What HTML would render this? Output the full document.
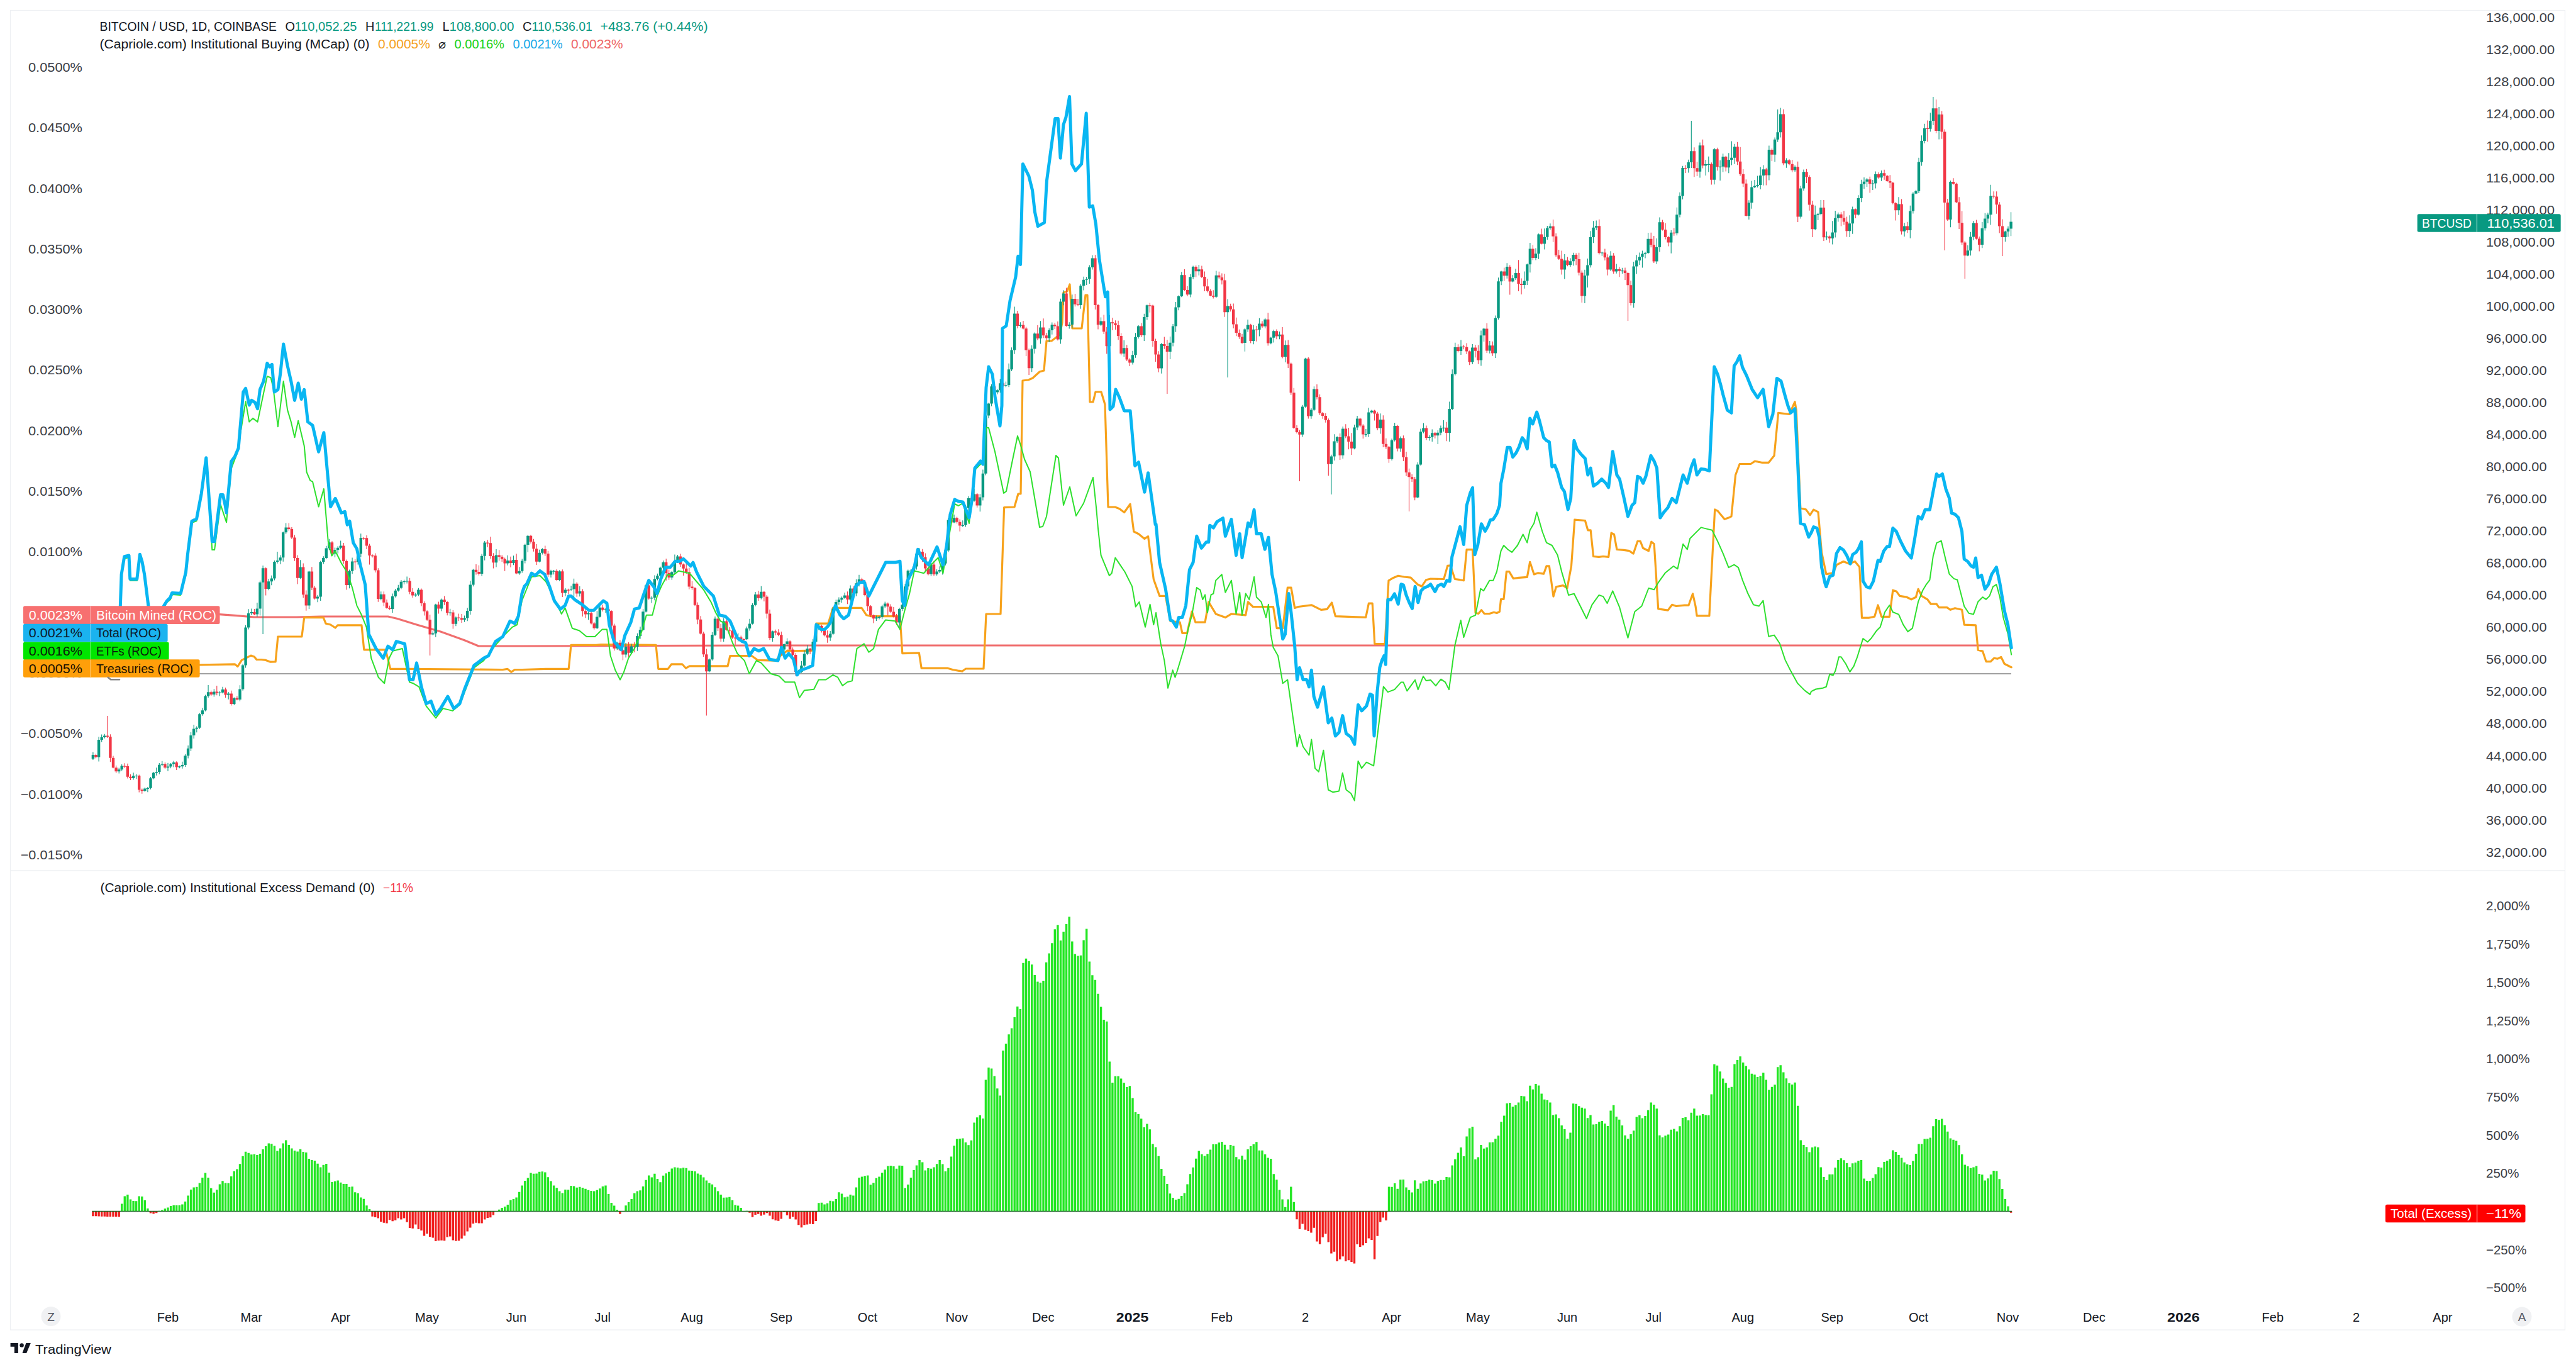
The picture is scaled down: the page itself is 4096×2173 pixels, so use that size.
<!DOCTYPE html><html><head><meta charset="utf-8"><style>html,body{margin:0;padding:0;background:#fff;}svg{display:block;}text{font-family:"Liberation Sans", sans-serif;}</style></head><body>
<svg width="4096" height="2173" viewBox="0 0 4096 2173">
<rect width="4096" height="2173" fill="#ffffff"/>
<rect x="16.5" y="16.5" width="4062" height="2097.5" fill="none" stroke="#eef0f3" stroke-width="1.3"/>
<line x1="16" y1="1384" x2="4079" y2="1384" stroke="#eef0f3" stroke-width="1.5"/>
<path d="M193.7 1925.6V1913.6 M198.3 1925.6V1901.5 M202.9 1925.6V1899.1 M207.5 1925.6V1906.5 M212.1 1925.6V1909.1 M216.6 1925.6V1909.2 M221.2 1925.6V1901.6 M225.8 1925.6V1902.1 M230.4 1925.6V1908 M234.9 1925.6V1921.1 M253.3 1925.6V1924.7 M257.8 1925.6V1923.4 M262.4 1925.6V1921.2 M267 1925.6V1919.4 M271.6 1925.6V1917.1 M276.2 1925.6V1916 M280.7 1925.6V1916 M285.3 1925.6V1916 M289.9 1925.6V1914.4 M294.5 1925.6V1910 M299.1 1925.6V1900.6 M303.6 1925.6V1890.9 M308.2 1925.6V1887.5 M312.8 1925.6V1886.7 M317.4 1925.6V1880.5 M321.9 1925.6V1871.9 M326.5 1925.6V1864.5 M331.1 1925.6V1871.9 M335.7 1925.6V1888.8 M340.3 1925.6V1895.7 M344.8 1925.6V1891.2 M349.4 1925.6V1882.5 M354 1925.6V1877.3 M358.6 1925.6V1880.6 M363.2 1925.6V1880.7 M367.7 1925.6V1870 M372.3 1925.6V1861.8 M376.9 1925.6V1858.5 M381.5 1925.6V1850.3 M386.1 1925.6V1837.7 M390.6 1925.6V1830.8 M395.2 1925.6V1832.7 M399.8 1925.6V1835.3 M404.4 1925.6V1834.8 M408.9 1925.6V1836.1 M413.5 1925.6V1833.9 M418.1 1925.6V1827.1 M422.7 1925.6V1822.1 M427.3 1925.6V1817.6 M431.8 1925.6V1818.3 M436.4 1925.6V1821.4 M441 1925.6V1829.6 M445.6 1925.6V1825.6 M450.2 1925.6V1817.6 M454.7 1925.6V1812.5 M459.3 1925.6V1820 M463.9 1925.6V1825.4 M468.5 1925.6V1829 M473.1 1925.6V1830.6 M477.6 1925.6V1826.7 M482.2 1925.6V1831.1 M486.8 1925.6V1831.9 M491.4 1925.6V1841.9 M495.9 1925.6V1844 M500.5 1925.6V1844.9 M505.1 1925.6V1849.7 M509.7 1925.6V1855.6 M514.3 1925.6V1851.8 M518.8 1925.6V1849.9 M523.4 1925.6V1864.1 M528 1925.6V1879.1 M532.6 1925.6V1877.7 M537.2 1925.6V1876.5 M541.7 1925.6V1879.7 M546.3 1925.6V1882 M550.9 1925.6V1882.1 M555.5 1925.6V1886.8 M560.1 1925.6V1886.3 M564.6 1925.6V1895.2 M569.2 1925.6V1896.7 M573.8 1925.6V1903.4 M578.4 1925.6V1905.8 M583 1925.6V1916.3 M587.5 1925.6V1922 M789 1925.6V1925.5 M793.6 1925.6V1922.7 M798.2 1925.6V1920 M802.7 1925.6V1917.9 M807.3 1925.6V1914.9 M811.9 1925.6V1907.8 M816.5 1925.6V1906 M821.1 1925.6V1903.5 M825.6 1925.6V1894.8 M830.2 1925.6V1884.4 M834.8 1925.6V1877.1 M839.4 1925.6V1872.6 M844 1925.6V1864.4 M848.5 1925.6V1865.8 M853.1 1925.6V1865.4 M857.7 1925.6V1862.8 M862.3 1925.6V1862.2 M866.8 1925.6V1863.5 M871.4 1925.6V1871.2 M876 1925.6V1877.4 M880.6 1925.6V1884.4 M885.2 1925.6V1888.2 M889.7 1925.6V1893.6 M894.3 1925.6V1896.5 M898.9 1925.6V1891 M903.5 1925.6V1891.2 M908.1 1925.6V1884.9 M912.6 1925.6V1885.5 M917.2 1925.6V1887.7 M921.8 1925.6V1886.7 M926.4 1925.6V1888 M931 1925.6V1889.8 M935.5 1925.6V1891.7 M940.1 1925.6V1893.1 M944.7 1925.6V1893.5 M949.3 1925.6V1891.7 M953.8 1925.6V1889.2 M958.4 1925.6V1886.1 M963 1925.6V1884.4 M967.6 1925.6V1898.1 M972.2 1925.6V1911.9 M976.7 1925.6V1916.5 M981.3 1925.6V1922.9 M990.5 1925.6V1924.9 M995.1 1925.6V1916.3 M999.6 1925.6V1910.9 M1004.2 1925.6V1905.9 M1008.8 1925.6V1896.7 M1013.4 1925.6V1893.5 M1018 1925.6V1892.2 M1022.5 1925.6V1886 M1027.1 1925.6V1875.8 M1031.7 1925.6V1868.4 M1036.3 1925.6V1871.4 M1040.9 1925.6V1865.7 M1045.4 1925.6V1874.1 M1050 1925.6V1879.3 M1054.6 1925.6V1868.8 M1059.2 1925.6V1865.2 M1063.7 1925.6V1862.8 M1068.3 1925.6V1857.4 M1072.9 1925.6V1855.4 M1077.5 1925.6V1855.9 M1082.1 1925.6V1857.3 M1086.6 1925.6V1856.3 M1091.2 1925.6V1856.7 M1095.8 1925.6V1860.8 M1100.4 1925.6V1860.9 M1105 1925.6V1862.1 M1109.5 1925.6V1865.4 M1114.1 1925.6V1867.4 M1118.7 1925.6V1871.4 M1123.3 1925.6V1876.5 M1127.9 1925.6V1880.6 M1132.4 1925.6V1882.7 M1137 1925.6V1887.2 M1141.6 1925.6V1893.4 M1146.2 1925.6V1899 M1150.7 1925.6V1903.7 M1155.3 1925.6V1903.5 M1159.9 1925.6V1902.8 M1164.5 1925.6V1907.9 M1169.1 1925.6V1915.4 M1173.6 1925.6V1916.6 M1178.2 1925.6V1920 M1182.8 1925.6V1925.5 M1187.4 1925.6V1924.8 M1301.9 1925.6V1912.3 M1306.4 1925.6V1911.8 M1311 1925.6V1914.5 M1315.6 1925.6V1912.8 M1320.2 1925.6V1908.8 M1324.7 1925.6V1909.5 M1329.3 1925.6V1906 M1333.9 1925.6V1895.3 M1338.5 1925.6V1897.5 M1343.1 1925.6V1903.2 M1347.6 1925.6V1902.3 M1352.2 1925.6V1899 M1356.8 1925.6V1900.6 M1361.4 1925.6V1887.6 M1366 1925.6V1872 M1370.5 1925.6V1870.4 M1375.1 1925.6V1869.3 M1379.7 1925.6V1868.5 M1384.3 1925.6V1883.2 M1388.9 1925.6V1880.2 M1393.4 1925.6V1872.8 M1398 1925.6V1870.5 M1402.6 1925.6V1864.2 M1407.2 1925.6V1859.3 M1411.8 1925.6V1853.4 M1416.3 1925.6V1853 M1420.9 1925.6V1854 M1425.5 1925.6V1857.8 M1430.1 1925.6V1852.8 M1434.6 1925.6V1852.9 M1439.2 1925.6V1888.6 M1443.8 1925.6V1883.1 M1448.4 1925.6V1871.9 M1453 1925.6V1860 M1457.5 1925.6V1852.4 M1462.1 1925.6V1844.1 M1466.7 1925.6V1847.6 M1471.3 1925.6V1860.4 M1475.9 1925.6V1856.9 M1480.4 1925.6V1857.8 M1485 1925.6V1855.6 M1489.6 1925.6V1850.2 M1494.2 1925.6V1844.1 M1498.8 1925.6V1850.6 M1503.3 1925.6V1862 M1507.9 1925.6V1856.8 M1512.5 1925.6V1838.6 M1517.1 1925.6V1821.3 M1521.6 1925.6V1810.6 M1526.2 1925.6V1810.1 M1530.8 1925.6V1809.6 M1535.4 1925.6V1815.9 M1540 1925.6V1820.3 M1544.5 1925.6V1812.8 M1549.1 1925.6V1784.6 M1553.7 1925.6V1776.2 M1558.3 1925.6V1772.7 M1562.9 1925.6V1778.1 M1567.4 1925.6V1716.4 M1572 1925.6V1696.9 M1576.6 1925.6V1698.5 M1581.2 1925.6V1710.5 M1585.8 1925.6V1730.3 M1590.3 1925.6V1741.5 M1594.9 1925.6V1669.9 M1599.5 1925.6V1658.9 M1604.1 1925.6V1644.2 M1608.6 1925.6V1634.5 M1613.2 1925.6V1617.1 M1617.8 1925.6V1599.9 M1622.4 1925.6V1604.1 M1627 1925.6V1530.8 M1631.5 1925.6V1523.7 M1636.1 1925.6V1527.7 M1640.7 1925.6V1533.2 M1645.3 1925.6V1550.1 M1649.9 1925.6V1560.4 M1654.4 1925.6V1561.9 M1659 1925.6V1559 M1663.6 1925.6V1529.8 M1668.2 1925.6V1515.4 M1672.8 1925.6V1499.2 M1677.3 1925.6V1477.3 M1681.9 1925.6V1470.3 M1686.5 1925.6V1494.9 M1691.1 1925.6V1481.1 M1695.6 1925.6V1469.1 M1700.2 1925.6V1457.2 M1704.8 1925.6V1496.5 M1709.4 1925.6V1516.5 M1714 1925.6V1519.5 M1718.5 1925.6V1518.7 M1723.1 1925.6V1494.4 M1727.7 1925.6V1476.4 M1732.3 1925.6V1528.4 M1736.9 1925.6V1550.2 M1741.4 1925.6V1557.8 M1746 1925.6V1579.7 M1750.6 1925.6V1600.5 M1755.2 1925.6V1621 M1759.8 1925.6V1623.8 M1764.3 1925.6V1687.6 M1768.9 1925.6V1720.9 M1773.5 1925.6V1710.7 M1778.1 1925.6V1710.7 M1782.6 1925.6V1714.4 M1787.2 1925.6V1721.2 M1791.8 1925.6V1727.9 M1796.4 1925.6V1726.3 M1801 1925.6V1745.4 M1805.5 1925.6V1768.1 M1810.1 1925.6V1770.9 M1814.7 1925.6V1778.2 M1819.3 1925.6V1791.9 M1823.9 1925.6V1786.5 M1828.4 1925.6V1795.3 M1833 1925.6V1818.5 M1837.6 1925.6V1823.4 M1842.2 1925.6V1837.7 M1846.8 1925.6V1858 M1851.3 1925.6V1868.9 M1855.9 1925.6V1881.9 M1860.5 1925.6V1897.2 M1865.1 1925.6V1903.9 M1869.6 1925.6V1906.9 M1874.2 1925.6V1905.7 M1878.8 1925.6V1901.1 M1883.4 1925.6V1896.4 M1888 1925.6V1882.4 M1892.5 1925.6V1866.2 M1897.1 1925.6V1855.7 M1901.7 1925.6V1841.7 M1906.3 1925.6V1829.6 M1910.9 1925.6V1834.7 M1915.4 1925.6V1837.4 M1920 1925.6V1834.2 M1924.6 1925.6V1827.5 M1929.2 1925.6V1819.1 M1933.8 1925.6V1819 M1938.3 1925.6V1816.3 M1942.9 1925.6V1815 M1947.5 1925.6V1819.8 M1952.1 1925.6V1827.4 M1956.7 1925.6V1820 M1961.2 1925.6V1821.5 M1965.8 1925.6V1839.3 M1970.4 1925.6V1843 M1975 1925.6V1837 M1979.5 1925.6V1843.6 M1984.1 1925.6V1827 M1988.7 1925.6V1822 M1993.3 1925.6V1818.9 M1997.9 1925.6V1815.2 M2002.4 1925.6V1828.8 M2007 1925.6V1828.8 M2011.6 1925.6V1835 M2016.2 1925.6V1840.5 M2020.8 1925.6V1841.9 M2025.3 1925.6V1866.3 M2029.9 1925.6V1875.2 M2034.5 1925.6V1891.5 M2039.1 1925.6V1906.5 M2043.7 1925.6V1918.8 M2048.2 1925.6V1906.5 M2052.8 1925.6V1886.6 M2057.4 1925.6V1910.8 M2208.5 1925.6V1886.4 M2213.1 1925.6V1886.7 M2217.7 1925.6V1881 M2222.2 1925.6V1889.8 M2226.8 1925.6V1875.3 M2231.4 1925.6V1875.1 M2236 1925.6V1887.5 M2240.5 1925.6V1891.8 M2245.1 1925.6V1895.5 M2249.7 1925.6V1876.3 M2254.3 1925.6V1889.7 M2258.9 1925.6V1881.2 M2263.4 1925.6V1878 M2268 1925.6V1877.1 M2272.6 1925.6V1875.2 M2277.2 1925.6V1876 M2281.8 1925.6V1881.5 M2286.3 1925.6V1877.3 M2290.9 1925.6V1875.7 M2295.5 1925.6V1876 M2300.1 1925.6V1870.9 M2304.7 1925.6V1871.5 M2309.2 1925.6V1852.6 M2313.8 1925.6V1842.7 M2318.4 1925.6V1832.6 M2323 1925.6V1824.1 M2327.5 1925.6V1837.9 M2332.1 1925.6V1806.5 M2336.7 1925.6V1793.4 M2341.3 1925.6V1790.9 M2345.9 1925.6V1842.9 M2350.4 1925.6V1839.6 M2355 1925.6V1819.9 M2359.6 1925.6V1825.7 M2364.2 1925.6V1824 M2368.8 1925.6V1816.1 M2373.3 1925.6V1815.7 M2377.9 1925.6V1810.3 M2382.5 1925.6V1805.2 M2387.1 1925.6V1783.3 M2391.7 1925.6V1773.6 M2396.2 1925.6V1754 M2400.8 1925.6V1753 M2405.4 1925.6V1759.2 M2410 1925.6V1756.8 M2414.6 1925.6V1752.6 M2419.1 1925.6V1741.9 M2423.7 1925.6V1742.7 M2428.3 1925.6V1750.5 M2432.9 1925.6V1725.8 M2437.4 1925.6V1731.7 M2442 1925.6V1723 M2446.6 1925.6V1725.6 M2451.2 1925.6V1738.5 M2455.8 1925.6V1747.8 M2460.3 1925.6V1748.7 M2464.9 1925.6V1752.4 M2469.5 1925.6V1772.5 M2474.1 1925.6V1771.4 M2478.7 1925.6V1777.4 M2483.2 1925.6V1788.9 M2487.8 1925.6V1795.1 M2492.4 1925.6V1809.9 M2497 1925.6V1800.4 M2501.6 1925.6V1754.3 M2506.1 1925.6V1754.7 M2510.7 1925.6V1758.2 M2515.3 1925.6V1760.8 M2519.9 1925.6V1762.3 M2524.4 1925.6V1777.2 M2529 1925.6V1772.4 M2533.6 1925.6V1787.6 M2538.2 1925.6V1787 M2542.8 1925.6V1783.2 M2547.3 1925.6V1782.1 M2551.9 1925.6V1785.9 M2556.5 1925.6V1789.9 M2561.1 1925.6V1765.4 M2565.7 1925.6V1756.8 M2570.2 1925.6V1775.1 M2574.8 1925.6V1779.7 M2579.4 1925.6V1788.9 M2584 1925.6V1804.7 M2588.6 1925.6V1810.2 M2593.1 1925.6V1803.1 M2597.7 1925.6V1797.2 M2602.3 1925.6V1775.5 M2606.9 1925.6V1772.7 M2611.4 1925.6V1777.4 M2616 1925.6V1774.1 M2620.6 1925.6V1764.8 M2625.2 1925.6V1752.6 M2629.8 1925.6V1755.9 M2634.3 1925.6V1762.3 M2638.9 1925.6V1804.8 M2643.5 1925.6V1808.1 M2648.1 1925.6V1805.3 M2652.7 1925.6V1803.6 M2657.2 1925.6V1795.8 M2661.8 1925.6V1794.6 M2666.4 1925.6V1798.5 M2671 1925.6V1790.2 M2675.6 1925.6V1776.9 M2680.1 1925.6V1776 M2684.7 1925.6V1780.7 M2689.3 1925.6V1768.7 M2693.9 1925.6V1762.2 M2698.4 1925.6V1773.6 M2703 1925.6V1773.2 M2707.6 1925.6V1770.9 M2712.2 1925.6V1772.4 M2716.8 1925.6V1772.7 M2721.3 1925.6V1739.4 M2725.9 1925.6V1691.8 M2730.5 1925.6V1693.8 M2735.1 1925.6V1703.2 M2739.7 1925.6V1714.4 M2744.2 1925.6V1721.6 M2748.8 1925.6V1729.1 M2753.4 1925.6V1727.8 M2758 1925.6V1691.5 M2762.6 1925.6V1685.1 M2767.1 1925.6V1679.2 M2771.7 1925.6V1689.1 M2776.3 1925.6V1694.5 M2780.9 1925.6V1700 M2785.4 1925.6V1706.8 M2790 1925.6V1708.2 M2794.6 1925.6V1711.9 M2799.2 1925.6V1710.2 M2803.8 1925.6V1705.3 M2808.3 1925.6V1716.6 M2812.9 1925.6V1732.4 M2817.5 1925.6V1727.7 M2822.1 1925.6V1724.3 M2826.7 1925.6V1696.3 M2831.2 1925.6V1693.3 M2835.8 1925.6V1704.4 M2840.4 1925.6V1714.3 M2845 1925.6V1721.7 M2849.6 1925.6V1724.1 M2854.1 1925.6V1720.7 M2858.7 1925.6V1757.7 M2863.3 1925.6V1812.6 M2867.9 1925.6V1820.1 M2872.5 1925.6V1823.2 M2877 1925.6V1831.4 M2881.6 1925.6V1824 M2886.2 1925.6V1822.4 M2890.8 1925.6V1823.7 M2895.3 1925.6V1855.5 M2899.9 1925.6V1870.9 M2904.5 1925.6V1876.1 M2909.1 1925.6V1866.8 M2913.7 1925.6V1866.8 M2918.2 1925.6V1856 M2922.8 1925.6V1844.1 M2927.4 1925.6V1841.2 M2932 1925.6V1844.3 M2936.6 1925.6V1849 M2941.1 1925.6V1855.3 M2945.7 1925.6V1849.2 M2950.3 1925.6V1848.1 M2954.9 1925.6V1845.3 M2959.5 1925.6V1844 M2964 1925.6V1873.5 M2968.6 1925.6V1877 M2973.2 1925.6V1877.2 M2977.8 1925.6V1872.4 M2982.3 1925.6V1866.6 M2986.9 1925.6V1855.3 M2991.5 1925.6V1856.1 M2996.1 1925.6V1847 M3000.7 1925.6V1844.9 M3005.2 1925.6V1842.5 M3009.8 1925.6V1828.6 M3014.4 1925.6V1831 M3019 1925.6V1836 M3023.6 1925.6V1840.5 M3028.1 1925.6V1847.8 M3032.7 1925.6V1850.7 M3037.3 1925.6V1852.1 M3041.9 1925.6V1845.6 M3046.5 1925.6V1834 M3051 1925.6V1818.6 M3055.6 1925.6V1818.4 M3060.2 1925.6V1810.5 M3064.8 1925.6V1810.3 M3069.3 1925.6V1808.5 M3073.9 1925.6V1790.3 M3078.5 1925.6V1778.9 M3083.1 1925.6V1780.2 M3087.7 1925.6V1778.5 M3092.2 1925.6V1788.5 M3096.8 1925.6V1798.7 M3101.4 1925.6V1809.4 M3106 1925.6V1811.8 M3110.6 1925.6V1813.6 M3115.1 1925.6V1820.2 M3119.7 1925.6V1835 M3124.3 1925.6V1851.6 M3128.9 1925.6V1853.9 M3133.5 1925.6V1856.7 M3138 1925.6V1855.5 M3142.6 1925.6V1853.6 M3147.2 1925.6V1866.1 M3151.8 1925.6V1867.3 M3156.3 1925.6V1876.4 M3160.9 1925.6V1873.3 M3165.5 1925.6V1867 M3170.1 1925.6V1861.1 M3174.7 1925.6V1861.4 M3179.2 1925.6V1874.2 M3183.8 1925.6V1889.9 M3188.4 1925.6V1905.9 M3193 1925.6V1917.4" stroke="#22e622" stroke-width="3.4" fill="none"/>
<path d="M147.9 1925.6V1933.2 M152.5 1925.6V1933.3 M157.1 1925.6V1933.5 M161.7 1925.6V1933.7 M166.3 1925.6V1933.8 M170.8 1925.6V1933.9 M175.4 1925.6V1933.9 M180 1925.6V1934 M184.6 1925.6V1934.1 M189.2 1925.6V1934.2 M239.5 1925.6V1928.4 M244.1 1925.6V1929.6 M248.7 1925.6V1928.3 M592.1 1925.6V1933.7 M596.7 1925.6V1935.1 M601.3 1925.6V1936.5 M605.8 1925.6V1941.9 M610.4 1925.6V1943.7 M615 1925.6V1944.6 M619.6 1925.6V1939.2 M624.2 1925.6V1941.2 M628.7 1925.6V1939.7 M633.3 1925.6V1936.6 M637.9 1925.6V1938.5 M642.5 1925.6V1936.6 M647.1 1925.6V1942.7 M651.6 1925.6V1951.9 M656.2 1925.6V1952.7 M660.8 1925.6V1946.6 M665.4 1925.6V1953.9 M670 1925.6V1955.9 M674.5 1925.6V1964.5 M679.1 1925.6V1961.1 M683.7 1925.6V1965.9 M688.3 1925.6V1967.5 M692.8 1925.6V1972.9 M697.4 1925.6V1972.1 M702 1925.6V1971.7 M706.6 1925.6V1972.2 M711.2 1925.6V1966.4 M715.7 1925.6V1965.6 M720.3 1925.6V1971.5 M724.9 1925.6V1972.7 M729.5 1925.6V1972.3 M734.1 1925.6V1968.8 M738.6 1925.6V1964.2 M743.2 1925.6V1957.4 M747.8 1925.6V1951.4 M752.4 1925.6V1945.1 M757 1925.6V1943.8 M761.5 1925.6V1944.4 M766.1 1925.6V1944.6 M770.7 1925.6V1938.6 M775.3 1925.6V1935.9 M779.8 1925.6V1935.3 M784.4 1925.6V1931.4 M985.9 1925.6V1929.7 M1192 1925.6V1927.8 M1196.5 1925.6V1934.7 M1201.1 1925.6V1931 M1205.7 1925.6V1929.7 M1210.3 1925.6V1932.5 M1214.9 1925.6V1930.7 M1219.4 1925.6V1928.2 M1224 1925.6V1932.6 M1228.6 1925.6V1938.3 M1233.2 1925.6V1939.9 M1237.7 1925.6V1940.7 M1242.3 1925.6V1937.4 M1246.9 1925.6V1927 M1251.5 1925.6V1931.8 M1256.1 1925.6V1937.5 M1260.6 1925.6V1934.3 M1265.2 1925.6V1938.4 M1269.8 1925.6V1947.2 M1274.4 1925.6V1951.2 M1279 1925.6V1947.2 M1283.5 1925.6V1946.5 M1288.1 1925.6V1945.5 M1292.7 1925.6V1945.9 M1297.3 1925.6V1940.9 M2062 1925.6V1938.2 M2066.5 1925.6V1953.7 M2071.1 1925.6V1945.6 M2075.7 1925.6V1954.8 M2080.3 1925.6V1957 M2084.9 1925.6V1959.5 M2089.4 1925.6V1951.8 M2094 1925.6V1973.6 M2098.6 1925.6V1977.8 M2103.2 1925.6V1966.7 M2107.8 1925.6V1961.2 M2112.3 1925.6V1974.5 M2116.9 1925.6V1992.6 M2121.5 1925.6V1989.7 M2126.1 1925.6V2004.9 M2130.7 1925.6V2002 M2135.2 1925.6V1997.3 M2139.8 1925.6V2005 M2144.4 1925.6V2003.2 M2149 1925.6V2006.1 M2153.5 1925.6V2008.4 M2158.1 1925.6V1978.1 M2162.7 1925.6V1982 M2167.3 1925.6V1979.6 M2171.9 1925.6V1976 M2176.4 1925.6V1968.4 M2181 1925.6V1971 M2185.6 1925.6V2001.8 M2190.2 1925.6V1964.7 M2194.8 1925.6V1942.6 M2199.3 1925.6V1935.5 M2203.9 1925.6V1939.9 M3197.6 1925.6V1927.8" stroke="#f01e1e" stroke-width="3.4" fill="none"/>
<line x1="146.4" y1="1925.6" x2="3199.1" y2="1925.6" stroke="#1f6b2a" stroke-width="1.5"/>
<line x1="37" y1="1071" x2="3198" y2="1071" stroke="#7f7f7f" stroke-width="1.6"/>
<polyline points="146,976 349,976.7 377,978.6 404,981 472,981 510,980 586,980 617,980 632,983.5 662.5,993 700.5,1004 738.6,1017.7 761,1027 830,1027 1200,1026 1800,1026 2400,1026 3198,1026" fill="none" stroke="#f06e6e" stroke-width="3.2" stroke-linejoin="round" stroke-linecap="round"/>
<polyline points="146,1057 318.4,1056.8 373.3,1055.8 377.9,1059.5 384.3,1049.4 387.9,1047.6 393.4,1044.9 398.9,1042.1 404.4,1044 408,1048.5 415.3,1048.5 422.7,1049.4 430,1052.2 438.1,1052 441.9,1012 479.9,1012 483.7,981.6 514.2,981.6 518,991.1 525.6,993 533.2,998 537,993.8 575,993.8 578.8,1032.9 613.1,1032.9 620.7,1063.4 654.9,1063.4 799.5,1064.5 807.1,1063.4 812.8,1068.3 818.5,1064.5 829.9,1064.5 830,1064.5 868,1063.4 904.2,1063.4 908,1025.3 936.5,1025.3 947.9,1025.3 955.5,1024.6 1043,1025.3 1046.8,1063.4 1062,1063.4 1067.7,1055.8 1084.8,1055.8 1090.6,1062.2 1096.3,1058.8 1157.1,1058.8 1160.9,1042.5 1195.2,1042.5 1204.7,1049.3 1233.2,1050.1 1240.8,1042.5 1252.2,1034.1 1259.8,1034.8 1294.1,1034.1 1297.9,991.1 1316.9,991.1 1324.5,966.4 1370.1,966.4 1377.7,977.8 1385.3,979.7 1431,979.7 1434.8,1038.7 1461.4,1037.9 1465.2,1062.2 1507.1,1062.2 1514.7,1064.5 1529.9,1067.2 1530,1067 1535.7,1063 1564,1063 1568,976 1591,976 1596.6,806.6 1613,806 1619,785 1623,785 1626,605 1635,604 1642,601 1653,591 1660,589 1664,542 1672,542 1685,532 1689,513 1691,465 1697,463 1701,452 1705,522 1720,522 1726,469 1729,469 1733,639 1738,639 1742,623 1751,623 1757,643 1762,806 1773,806 1780,808.8 1787.6,814.5 1797.1,801.2 1802.8,845 1810.4,848.8 1819.9,856.4 1825.6,852.6 1834.3,920.7 1843.8,947.4 1853.3,947.4 1860.9,987.3 1876.1,989.2 1879.9,1006.3 1887.6,1006.3 1895.2,972.1 1900.9,989.2 1916.1,989.2 1921.8,956.9 1933.2,975.9 1948.4,981.6 1957.9,975.9 1980.7,977.8 1984.5,956.9 1992.2,964.5 2024.5,964.5 2030.2,998.7 2039.7,998.7 2047.3,934.1 2053,934.1 2058.7,966.4 2064.4,964.5 2085.3,961.8 2100.6,969.4 2110.1,968.3 2117.7,958 2123.4,979.7 2171.7,981.4 2176.4,959.1 2182.2,959.1 2185.8,1023.5 2202.1,1023.5 2208,922.8 2213.9,919.3 2223.2,915.3 2232.6,917 2243.1,918.1 2253.7,928.7 2260.7,932.2 2267.7,921.7 2274.7,920 2295.8,920.5 2301.7,899.4 2306.3,898.9 2313.4,920.5 2321.6,921.7 2327.4,922.8 2332.1,873.7 2341.5,873.7 2346.1,974.3 2350.8,975.5 2355.5,969.7 2360.2,975.5 2368.4,975.5 2375.4,973.2 2380,974.5 2384.4,972.3 2386.6,952.5 2391,952.5 2395.4,908.6 2399.7,908.6 2406.3,919.6 2415.1,918.3 2428.3,917.4 2432.7,893.3 2439.2,913 2445.8,910.8 2454.6,912.2 2459,899.9 2463.4,899.9 2470,948.1 2474.4,932.8 2485.3,930.6 2491.9,935 2498.5,899.9 2503.8,826.1 2520.4,827.5 2524.8,842.8 2529.2,842.8 2533.6,884.5 2542.4,885.4 2549,884.5 2557.7,885.4 2562.1,847.2 2566.5,849.4 2570.9,873.5 2581.9,874.4 2590.7,875.7 2597.2,880.1 2603.8,860.4 2608.2,860.4 2612.6,871.3 2621.4,875.7 2625.8,861.2 2630.2,864.8 2636.7,967.9 2652.1,970.1 2658.7,961.3 2665.3,963.5 2678.4,962.2 2685,962.2 2691.6,943.8 2696,963.5 2698.2,978.9 2717.9,978.9 2726.7,809.9 2731.1,812.1 2742.1,825.3 2748.6,823.1 2753,820.9 2759.6,755 2766.2,737.5 2783.8,737.5 2790.3,733.1 2801.3,735.3 2812.3,735.3 2821.1,724.3 2827.6,656.3 2845.2,658.5 2854,638.7 2856.2,651.9 2862.8,807.7 2871.5,809.9 2878.1,818.7 2880,815.7 2883.7,810.2 2891,813.9 2896.5,877.9 2903.8,912.6 2914.7,910.8 2920.2,898 2931.2,892.5 2940.4,896.2 2949.5,892.5 2956.8,901.6 2960.5,982.1 2971.4,982.1 2980.6,980.3 2986.1,962 2991.6,980.3 3004.4,980.3 3009.8,938.2 3015.3,940 3020.8,947.4 3031.8,949.2 3039.1,952.8 3046.4,949.2 3050.1,936.4 3055.6,947.4 3064.7,952.8 3070.2,960.2 3079.3,960.2 3083,965.6 3095.8,965.6 3101.3,969.3 3108.6,966.7 3119.6,969.3 3123.2,993.1 3141.5,993.8 3145.2,1033.3 3152.5,1035.1 3158,1051.6 3165.3,1051.6 3170.8,1046.1 3176.3,1047.2 3181.8,1044.3 3187.2,1055.3 3198.2,1060.7" fill="none" stroke="#f7a21b" stroke-width="3.2" stroke-linejoin="round" stroke-linecap="round"/>
<path d="M147.9 1195.5V1207.9 M157.1 1171.2V1210.6 M161.7 1167.5V1179.6 M166.3 1166.8V1173.8 M189.2 1220.4V1229.4 M193.7 1214.9V1225.5 M212.1 1228.3V1239.6 M216.6 1230.5V1238.3 M230.4 1251.8V1258.5 M234.9 1250.9V1259.3 M239.5 1235V1254.7 M244.1 1226.9V1238.8 M248.7 1220.2V1232.7 M253.3 1212.9V1230.7 M257.8 1209.8V1218.1 M267 1212.8V1225.8 M271.6 1212.9V1221.3 M276.2 1209.5V1219.6 M285.3 1217.1V1221.3 M289.9 1210.7V1221.7 M294.5 1198.8V1218.9 M299.1 1185V1205.4 M303.6 1163.7V1193.9 M308.2 1152.1V1174.1 M312.8 1154.6V1164.3 M317.4 1133.5V1158.8 M321.9 1125.2V1137.8 M326.5 1104.6V1130.8 M331.1 1089.1V1108.9 M340.3 1095.2V1107.4 M349.4 1098.8V1106.6 M354 1091.7V1102.2 M363.2 1100V1111.8 M372.3 1108.4V1121 M381.5 1089.3V1114.8 M386.1 1055.2V1097.7 M390.6 993.8V1061.6 M395.2 968.2V1000.5 M399.8 967.4V977.9 M408.9 958.1V980.6 M413.5 922.7V978.4 M418.1 899.1V1008 M427.3 920V938.2 M431.8 914.7V930.2 M436.4 891V922.6 M441 876.9V895.7 M445.6 882.5V897 M450.2 845V892.8 M454.7 831.6V848.8 M477.6 890.3V920.3 M491.4 907.6V967.9 M505.1 945.7V957.2 M509.7 891.6V955 M514.3 884.3V896.5 M518.8 867.7V889 M523.4 856.7V874.3 M532.6 870.4V886.1 M537.2 868.3V879.7 M541.7 859.5V873.3 M555.5 905.4V935.2 M560.1 886.5V912.2 M569.2 876.5V897.4 M573.8 848.3V885.6 M605.8 940.2V954.2 M624.2 943.4V974 M628.7 936V949.7 M633.3 929.7V940.6 M637.9 922.1V936.5 M642.5 921.6V929.1 M647.1 916.5V927.5 M660.8 942.6V948.7 M665.4 934.7V947.5 M688.3 1003.5V1010.1 M692.8 959.7V1012.8 M702 951.5V971.5 M715.7 967.7V978.7 M724.9 980V995.2 M738.6 978.5V988.8 M743.2 966.2V987.3 M747.8 923.3V977 M752.4 904.3V932.2 M766.1 880.6V915.7 M770.7 859.9V890.8 M789 873.1V901.6 M807.3 882.8V898.8 M816.5 883.3V898.3 M825.6 901.2V913.8 M830.2 888.2V910.4 M834.8 864.6V895.4 M839.4 850.2V877.8 M857.7 873.8V894.1 M862.3 871.3V881.4 M876 905.7V917.9 M880.6 906.1V913.2 M889.7 906.3V924 M898.9 935.1V947.7 M908.1 930.9V938.9 M912.6 919.7V950.8 M921.8 932V948.2 M935.5 972.6V985.3 M949.3 971.2V1000.1 M953.8 959.4V981.6 M963 966.8V973.9 M981.3 1020.3V1032.9 M995.1 1021.9V1045.3 M1004.2 1023.4V1039.9 M1013.4 1006.7V1034.8 M1018 996.3V1015.4 M1022.5 967.9V1002.4 M1027.1 929.4V973.5 M1036.3 947.7V958.4 M1040.9 914.5V954.2 M1045.4 911.8V922.4 M1050 900.8V925.2 M1054.6 890.9V905.3 M1068.3 907.7V921.7 M1072.9 881.4V912.5 M1077.5 881.9V895 M1127.9 1046.8V1068.8 M1132.4 1004.7V1049.9 M1137 979.9V1011.1 M1150.7 982.4V1020.1 M1173.6 1006.5V1019.8 M1187.4 996.1V1017.3 M1192 983.7V1002.6 M1196.5 959V992.7 M1201.1 940.9V963.7 M1210.3 931.8V952.8 M1228.6 1002.6V1020 M1246.9 1022.9V1035.2 M1251.5 1014.4V1027.3 M1269.8 1064.8V1071.6 M1274.4 1050.8V1069.4 M1279 1034V1059.7 M1283.5 1025.3V1041.2 M1292.7 1015.7V1041.9 M1297.3 991.7V1022 M1301.9 991.8V1001.6 M1320.2 1003V1018.7 M1324.7 964.5V1009.3 M1329.3 953.2V970.7 M1333.9 949.5V961.4 M1338.5 948.2V957.9 M1343.1 942.1V951.7 M1352.2 930.4V955.5 M1361.4 920.9V947.8 M1366 913.7V932.3 M1393.4 978.4V987 M1398 979V984.5 M1402.6 961.6V984.3 M1407.2 956.4V966.5 M1430.1 965.9V999.6 M1434.6 958V971.2 M1439.2 928.3V967.9 M1443.8 905.6V937.4 M1448.4 905V910.2 M1453 898.4V911.8 M1457.5 873.6V905.5 M1462.1 871.5V885 M1480.4 892.7V915.9 M1489.6 905V915.1 M1494.2 900.3V911.1 M1498.8 890.4V913.5 M1503.3 873.8V898.7 M1507.9 822.9V877.5 M1517.1 818.1V831.6 M1530.8 827.2V837.7 M1535.4 802.7V837.5 M1540 788.8V812.6 M1549.1 776.7V797.6 M1558.3 785.2V813.3 M1562.9 746.4V795.4 M1567.4 651.1V755.5 M1572 640.3V664.8 M1576.6 610.7V645.7 M1585.8 618.4V626.7 M1590.3 602.6V624.3 M1599.5 606.6V615.5 M1604.1 577.7V615.3 M1608.6 552.3V590.1 M1613.2 487.6V562.7 M1622.4 512.2V520.6 M1640.7 548.9V591.3 M1645.3 528.4V562 M1654.4 510.2V546.6 M1668.2 522.1V544 M1672.8 512.6V531.8 M1686.5 474.8V546.5 M1691.1 461.3V485.3 M1700.2 512.2V522.6 M1704.8 468.2V522 M1718.5 451.8V490.8 M1723.1 439.7V461.4 M1727.7 439.9V452.9 M1732.3 421.5V450.9 M1736.9 405.7V428.5 M1750.6 504.5V517.9 M1764.3 500.9V556.5 M1787.2 541V567.3 M1801 557.8V579.4 M1805.5 529.3V568.7 M1810.1 517.1V538.3 M1819.3 498.7V541.9 M1823.9 484.3V508.6 M1846.8 544.9V593.8 M1860.5 535V571 M1865.1 515V550.4 M1869.6 480.1V527.8 M1874.2 469.6V493.2 M1878.8 432.2V472.2 M1892.5 435.7V472.6 M1897.1 422.6V443.7 M1906.3 421V437.7 M1933.8 430.4V473.8 M1952.1 475.5V600 M1979.5 521.6V558.8 M1984.1 507.9V527.8 M1993.3 516.7V547.3 M2002.4 505.8V534.4 M2011.6 505.5V522.1 M2020.8 535.5V547.2 M2025.3 524V544.5 M2034.5 527V539.2 M2043.7 541.3V575.9 M2071.1 643.8V694.6 M2075.7 568.8V648 M2084.9 649.1V665.7 M2089.4 614.3V653.3 M2116.9 722.7V786 M2121.5 690.2V732 M2126.1 693.5V704.3 M2135.2 678.1V728.9 M2153.5 675V714.2 M2158.1 661.1V683.9 M2171.9 682V694.6 M2176.4 648.3V694.8 M2181 651.5V657.3 M2194.8 657.3V689.6 M2213.1 697.2V731.9 M2217.7 672.1V701.8 M2226.8 693.8V717.9 M2254.3 735V791.9 M2258.9 681.6V739.9 M2263.4 672.6V688.8 M2272.6 691.8V700.5 M2277.2 682.6V702 M2286.3 684.1V706.1 M2290.9 676.6V691.9 M2295.5 668.1V685.9 M2304.7 638.5V701.9 M2309.2 587.3V652 M2313.8 544.8V596.7 M2323 540.6V564 M2341.3 547V579 M2355 525.4V581.6 M2359.6 521.1V543.1 M2368.8 542V561.7 M2377.9 501.4V569.1 M2382.5 441.2V508.1 M2387.1 430.5V453.3 M2396.2 418.2V442.7 M2405.4 437.3V448.8 M2410 427.2V445 M2423.7 431.4V458.8 M2428.3 419V452.9 M2432.9 386V433.2 M2442 394.4V413.6 M2446.6 371.3V411.7 M2455.8 363.2V396.6 M2460.3 359V380.9 M2464.9 355.3V365.3 M2487.8 403.9V443.4 M2497 410.5V424.3 M2501.6 401.7V422.2 M2519.9 428.7V482.1 M2524.4 410.9V456.9 M2529 367.2V425.3 M2533.6 351.2V386.2 M2538.2 350.4V366.1 M2547.3 399.9V406.8 M2561.1 399.2V431.1 M2570.2 419.6V434.7 M2579.4 425.8V435 M2597.7 416V488.9 M2602.3 405.3V435.5 M2606.9 401.6V421.1 M2611.4 398.4V425.5 M2616 400.5V410.5 M2620.6 369.9V404 M2634.3 378.9V419.7 M2638.9 345.4V400.4 M2657.2 366V402.7 M2666.4 329.8V374.3 M2671 305.8V345.6 M2675.6 263.8V317.1 M2684.7 253.7V274.4 M2689.3 192V267 M2703 226.5V282.5 M2712.2 253.9V279 M2716.8 248.8V273.5 M2725.9 234.9V293.2 M2735.1 254.8V287.1 M2739.7 244.3V273.4 M2748.8 243.2V275.2 M2753.4 224.6V262.5 M2758 228.7V260.8 M2780.9 318.2V349.1 M2785.4 287.4V331.8 M2790 286.1V298.9 M2794.6 279.6V298 M2799.2 265.4V301.1 M2803.8 262.6V294.8 M2812.9 231.5V286.6 M2822.1 218.6V257.2 M2826.7 174V225.7 M2831.2 171.6V218.6 M2840.4 251.4V266.7 M2854.1 263V273.2 M2863.3 295.6V347.6 M2867.9 269.5V303.1 M2886.2 326.8V366.1 M2890.8 338.5V350.1 M2895.3 318V342.2 M2904.5 368V381.6 M2913.7 351.3V388.5 M2918.2 335V377.5 M2922.8 337.7V352.6 M2941.1 342.2V376.9 M2945.7 328.5V371.8 M2954.9 310.2V342.6 M2959.5 285.8V321.2 M2964 282V300.3 M2968.6 283.1V297.1 M2977.8 286.1V301.9 M2982.3 272.6V299.6 M2991.5 271V287.8 M3019 313.3V341.7 M3028.1 354.2V375.9 M3037.3 326.8V378.8 M3041.9 305.5V339.5 M3046.5 301.8V308.8 M3051 250.7V307.1 M3055.6 215.3V263.6 M3060.2 196.8V227.7 M3069.3 179.3V209.3 M3073.9 154V198.9 M3083.1 170.1V221.6 M3101.4 286.9V361.3 M3128.9 390V407.3 M3133.5 368.7V406.3 M3138 351.1V382 M3151.8 353.1V394.3 M3156.3 338.7V366.6 M3160.9 337.9V354.9 M3165.5 293.7V357.5 M3188.4 366.8V384.2 M3193 359.7V376.4 M3197.6 337.2V375.3" stroke="#089981" stroke-width="1.1" fill="none"/>
<path d="M152.5 1198V1205.4 M170.8 1138V1173.1 M175.4 1167.3V1211.2 M180 1201.5V1221.3 M184.6 1216.7V1229 M198.3 1213.2V1220.7 M202.9 1213.8V1237.4 M207.5 1230.8V1240 M221.2 1231.5V1259.6 M225.8 1253.6V1261.8 M262.4 1211.8V1222 M280.7 1210.3V1223.9 M335.7 1097.8V1106.1 M344.8 1090.1V1105.2 M358.6 1092.9V1108.9 M367.7 1097.8V1121.6 M376.9 1106.7V1113.3 M404.4 967.9V978 M422.7 901.9V946.5 M459.3 831.4V843.6 M463.9 837.9V857.1 M468.5 850.5V891.7 M473.1 882.4V928.4 M482.2 895.6V950.3 M486.8 938.6V970.8 M495.9 901.3V938 M500.5 931.6V953 M528 860.3V882.3 M546.3 863.1V896.4 M550.9 889.5V937.5 M564.6 888.9V905.8 M578.4 853.7V858.1 M583 851.1V873 M587.5 864.5V897.6 M592.1 881.2V886.2 M596.7 879.6V910.1 M601.3 903.3V956.7 M610.4 940.3V963.4 M615 953V967.6 M619.6 962.8V969.5 M651.6 918.7V944.6 M656.2 935.1V950 M670 935.6V963.6 M674.5 955.9V978.4 M679.1 970.3V986.8 M683.7 977.1V1042 M697.4 956.4V975.5 M706.6 947.6V961.7 M711.2 955.7V978.2 M720.3 970.1V999.5 M729.5 975.6V987.3 M734.1 976.1V990 M757 896.9V913.5 M761.5 898.4V914.8 M775.3 858.3V869.7 M779.8 853.3V888.1 M784.4 879.2V903.6 M793.6 874.2V891.4 M798.2 882.4V893 M802.7 886.5V907.8 M811.9 884.8V901.8 M821.1 880.2V912.8 M844 849.9V864.1 M848.5 856.8V876.8 M853.1 865.1V898.1 M866.8 867.4V883.7 M871.4 875.7V916.9 M885.2 904.9V923.6 M894.3 905.2V948.9 M903.5 935.8V944.2 M917.2 925.5V948.8 M926.4 936.6V980.1 M931 966.8V982.2 M940.1 970V992.5 M944.7 988.8V1000.7 M958.4 961.3V971.9 M967.6 964.6V976.2 M972.2 970.2V1001 M976.7 991.6V1034.3 M985.9 1017.4V1034.7 M990.5 1031.2V1049.5 M999.6 1020.7V1044.6 M1008.8 1020.5V1037 M1031.7 926V953.2 M1059.2 888V922.8 M1063.7 905.4V921.8 M1082.1 880.2V900.9 M1086.6 895.8V915.1 M1091.2 893.2V912.1 M1095.8 902.7V936.7 M1100.4 923.7V937.8 M1105 933.3V963.3 M1109.5 957.4V992.2 M1114.1 979.3V1008.6 M1118.7 1004.3V1044.1 M1123.3 1031.5V1137.5 M1141.6 979.8V1003.1 M1146.2 991.9V1020 M1155.3 983.2V1002.6 M1159.9 997V1008.4 M1164.5 998.9V1015.4 M1169.1 1007.2V1024.7 M1178.2 1010.5V1018.3 M1182.8 1014.9V1020.8 M1205.7 938.9V955.1 M1214.9 939.7V956 M1219.4 945.9V983.3 M1224 968.9V1017.3 M1233.2 1000.7V1010 M1237.7 1000.2V1011.2 M1242.3 1003.9V1040.5 M1256.1 1017.9V1033.8 M1260.6 1029.2V1044 M1265.2 1038.3V1074.6 M1288.1 1030V1039.9 M1306.4 993.3V1005.5 M1311 998.1V1011.5 M1315.6 1002.3V1021.8 M1347.6 940.2V960.3 M1356.8 931.7V947.6 M1370.5 918.5V928.1 M1375.1 922V948.1 M1379.7 944.7V971.1 M1384.3 962V981.1 M1388.9 976.8V990.4 M1411.8 957.8V978.3 M1416.3 960.4V973.9 M1420.9 965.1V981.4 M1425.5 976.1V993.3 M1466.7 872.8V893.3 M1471.3 879.6V909.9 M1475.9 897.3V914.5 M1485 891.7V915.5 M1512.5 824.1V833.1 M1521.6 821.4V832.3 M1526.2 825.5V844.8 M1544.5 789.1V797.6 M1553.7 783.9V806.7 M1581.2 612.5V625.6 M1594.9 607.3V615.3 M1617.8 494V522.1 M1627 510V523.6 M1631.5 519.6V566 M1636.1 554.3V596.1 M1649.9 517.1V540.8 M1659 506.2V537.3 M1663.6 529V540.2 M1677.3 513.1V522.9 M1681.9 511.1V541.2 M1695.6 457.6V519.3 M1709.4 467V487.2 M1714 475V486.4 M1741.4 405.2V491.9 M1746 483.2V523.5 M1755.2 500.4V530.9 M1759.8 519.9V562.5 M1768.9 505V525 M1773.5 509.2V524 M1778.1 509.8V540.3 M1782.6 529.6V564.8 M1791.8 548.2V573.9 M1796.4 569.6V582 M1814.7 513.5V535.9 M1828.4 481.4V496.7 M1833 484.5V551.2 M1837.6 538.5V574.9 M1842.2 558.3V591.7 M1851.3 535.6V554.7 M1855.9 540.2V626 M1883.4 428.1V462.4 M1888 455.1V471.1 M1901.7 421.9V440.5 M1910.9 422.5V442.1 M1915.4 431.6V463 M1920 443.1V464.8 M1924.6 459.8V471.1 M1929.2 461.2V474.6 M1938.3 431.8V443.4 M1942.9 434.4V452.2 M1947.5 435.3V503.8 M1956.7 482.8V495.2 M1961.2 482.4V521.9 M1965.8 504.8V534.3 M1970.4 523.8V538.7 M1975 530.7V546.5 M1988.7 514.8V545.5 M1997.9 518.1V542.8 M2007 510.5V521.1 M2016.2 497.2V549.6 M2029.9 523.4V539.2 M2039.1 519.9V569.5 M2048.2 540.5V584.9 M2052.8 576.4V627.7 M2057.4 616.8V681.9 M2062 676.1V689.1 M2066.5 683.6V765 M2080.3 568V665.4 M2094 611.1V635.1 M2098.6 627V659.7 M2103.2 655.1V665.7 M2107.8 657V671.8 M2112.3 665.2V756.2 M2130.7 689.1V730.9 M2139.8 674.3V696.6 M2144.4 680.1V714.2 M2149 688.3V723 M2162.7 663.9V679.2 M2167.3 674.2V697.2 M2185.6 651.5V668.4 M2190.2 654.8V683.9 M2199.3 660.3V710.9 M2203.9 696.7V713.7 M2208.5 709.1V735.8 M2222.2 675.5V717.4 M2231.4 692.3V732.9 M2236 718V756.8 M2240.5 744.7V813 M2245.1 754.1V766 M2249.7 758V795.3 M2268 676.4V699.5 M2281.8 686.8V697.1 M2300.1 670.7V701.3 M2318.4 547.3V560.2 M2327.5 547.9V555.2 M2332.1 545.6V562.9 M2336.7 557.2V580.3 M2345.9 548.2V568.2 M2350.4 548.5V578.8 M2364.2 513.8V561 M2373.3 542.8V565.8 M2391.7 425.5V446.7 M2400.8 421.6V468.6 M2414.6 413.3V463 M2419.1 442.6V467.9 M2437.4 389.5V413.5 M2451.2 363.5V388.4 M2469.5 349V384.7 M2474.1 371V408.5 M2478.7 397V413.1 M2483.2 398.6V436.4 M2492.4 408.6V423.3 M2506.1 402.6V421.6 M2510.7 401.7V437.7 M2515.3 429.9V481 M2542.8 348.8V404.4 M2551.9 395.4V413.9 M2556.5 404.2V437.8 M2565.7 402.3V435 M2574.8 424.3V440.2 M2584 425.6V445.1 M2588.6 432.6V510 M2593.1 446.2V485.6 M2625.2 369.7V393.3 M2629.8 375V418 M2643.5 349.5V366.5 M2648.1 354.7V380.5 M2652.7 375.3V391.5 M2661.8 362.5V374.8 M2680.1 262.4V275.1 M2693.9 234.2V281.2 M2698.4 257V279.9 M2707.6 221.8V267.6 M2721.3 258.3V293.6 M2730.5 234.8V271.2 M2744.2 247.8V272.4 M2762.6 225.8V262.2 M2767.1 233.7V279.5 M2771.7 268.9V297.3 M2776.3 285.2V344.1 M2808.3 266.8V294.4 M2817.5 235.9V255.9 M2835.8 173.7V262.6 M2845 253.3V262.6 M2849.6 254.1V273.7 M2858.7 256.7V352.9 M2872.5 268.8V291.1 M2877 278.6V334.7 M2881.6 319.1V377 M2899.9 318V383.1 M2909.1 374.5V385.7 M2927.4 337.2V359.6 M2932 335.3V357.4 M2936.6 344.4V376.6 M2950.3 331.5V346.9 M2973.2 280.7V306.5 M2986.9 273.9V283.9 M2996.1 269.7V285.7 M3000.7 277.9V288.9 M3005.2 278.3V299.1 M3009.8 289.2V324.7 M3014.4 321.6V350.4 M3023.6 316.4V372.7 M3032.7 352.7V370.2 M3064.8 191.4V225.3 M3078.5 158.2V211.7 M3087.7 176.5V220.8 M3092.2 205.4V398 M3096.8 315.9V351 M3106 283.2V293.6 M3110.6 290.5V323.1 M3115.1 313.2V363.9 M3119.7 335.5V388.9 M3124.3 383.2V443 M3142.6 349.5V380.8 M3147.2 375.9V399.6 M3170.1 304.3V315.4 M3174.7 304.3V339.7 M3179.2 321.3V370.6 M3183.8 348.6V407" stroke="#f23645" stroke-width="1.1" fill="none"/>
<path d="M145.7 1200H150.1V1206H145.7Z M154.9 1175.9H159.3V1203.5H154.9Z M159.5 1171.9H163.9V1175.9H159.5Z M164.1 1169.4H168.5V1171.9H164.1Z M187 1223.3H191.4V1226.3H187Z M191.5 1217.5H195.9V1223.3H191.5Z M209.9 1233.3H214.3V1237H209.9Z M214.4 1232.9H218.8V1234.1H214.4Z M228.2 1253.5H232.6V1257.2H228.2Z M232.7 1252.8H237.1V1254H232.7Z M237.3 1237.3H241.7V1252.8H237.3Z M241.9 1228.4H246.3V1237.3H241.9Z M246.5 1226.9H250.9V1228.4H246.5Z M251.1 1215.8H255.5V1226.9H251.1Z M255.6 1214.4H260V1215.8H255.6Z M264.8 1218.4H269.2V1220.2H264.8Z M269.4 1214.6H273.8V1218.4H269.4Z M274 1212.1H278.4V1214.6H274Z M283.1 1218.2H287.5V1219.5H283.1Z M287.7 1216H292.1V1218.2H287.7Z M292.3 1201.2H296.7V1216H292.3Z M296.9 1189.7H301.3V1201.2H296.9Z M301.4 1169H305.8V1189.7H301.4Z M306 1158.6H310.4V1169H306Z M310.6 1156.7H315V1158.6H310.6Z M315.2 1135.2H319.6V1156.7H315.2Z M319.7 1129.3H324.1V1135.2H319.7Z M324.3 1106.5H328.7V1129.3H324.3Z M328.9 1100.2H333.3V1106.5H328.9Z M338.1 1099.6H342.5V1104.1H338.1Z M347.2 1100.8H351.6V1102H347.2Z M351.8 1095.9H356.2V1100.8H351.8Z M361 1102.4H365.4V1104.6H361Z M370.1 1109.8H374.5V1119.1H370.1Z M379.3 1095.6H383.7V1111.9H379.3Z M383.9 1057.6H388.3V1095.6H383.9Z M388.4 997.6H392.8V1057.6H388.4Z M393 975.1H397.4V997.6H393Z M397.6 973H402V975.1H397.6Z M406.7 967.4H411.1V976.5H406.7Z M411.3 925.7H415.7V967.4H411.3Z M415.9 903.2H420.3V925.7H415.9Z M425.1 924.2H429.5V935.9H425.1Z M429.6 919.6H434V924.2H429.6Z M434.2 892.9H438.6V919.6H434.2Z M438.8 891H443.2V892.9H438.8Z M443.4 886.2H447.8V891H443.4Z M448 846.3H452.4V886.2H448Z M452.5 838.5H456.9V846.3H452.5Z M475.4 901.6H479.8V918.7H475.4Z M489.2 908.6H493.6V962.4H489.2Z M502.9 948.5H507.3V951.6H502.9Z M507.5 893.2H511.9V948.5H507.5Z M512.1 886.9H516.5V893.2H512.1Z M516.6 871.6H521V886.9H516.6Z M521.2 862.3H525.6V871.6H521.2Z M530.4 874.1H534.8V879.9H530.4Z M535 870.8H539.4V874.1H535Z M539.5 867.6H543.9V870.8H539.5Z M553.3 907.8H557.7V930.1H553.3Z M557.9 892.6H562.3V907.8H557.9Z M567 880.2H571.4V893.3H567Z M571.6 855.1H576V880.2H571.6Z M603.6 944.8H608V952.1H603.6Z M622 948.1H626.4V968.1H622Z M626.5 938.8H630.9V948.1H626.5Z M631.1 934.4H635.5V938.8H631.1Z M635.7 924.8H640.1V934.4H635.7Z M640.3 924H644.7V925.2H640.3Z M644.9 923.4H649.3V924.6H644.9Z M658.6 945.2H663V946.5H658.6Z M663.2 937.5H667.6V945.2H663.2Z M686.1 1006.8H690.5V1008.5H686.1Z M690.6 961H695V1006.8H690.6Z M699.8 953.3H704.2V967.5H699.8Z M713.5 973.4H717.9V974.6H713.5Z M722.7 981.4H727.1V991.7H722.7Z M736.4 982.4H740.8V985H736.4Z M741 971H745.4V982.4H741Z M745.6 929.5H750V971H745.6Z M750.2 905.8H754.6V929.5H750.2Z M763.9 883.7H768.3V911.9H763.9Z M768.5 862.5H772.9V883.7H768.5Z M786.8 882.4H791.2V894.3H786.8Z M805.1 891.1H809.5V895.4H805.1Z M814.3 890H818.7V895H814.3Z M823.4 907.8H827.8V911.5H823.4Z M828 891.6H832.4V907.8H828Z M832.6 866.1H837V891.6H832.6Z M837.2 851.8H841.6V866.1H837.2Z M855.5 878.8H859.9V892.8H855.5Z M860.1 873.1H864.5V878.8H860.1Z M873.8 907.8H878.2V913.5H873.8Z M878.4 907.5H882.8V908.7H878.4Z M887.5 908.3H891.9V921.9H887.5Z M896.7 937.6H901.1V942.6H896.7Z M905.9 936.4H910.3V937.6H905.9Z M910.4 927.7H914.8V936.4H910.4Z M919.6 939.9H924V943.5H919.6Z M933.3 974.4H937.7V976.5H933.3Z M947.1 980.5H951.5V998.5H947.1Z M951.6 965.7H956V980.5H951.6Z M960.8 968.6H965.2V969.8H960.8Z M979.1 1021.8H983.5V1030.7H979.1Z M992.9 1028H997.3V1040.5H992.9Z M1002 1027.5H1006.4V1037.8H1002Z M1011.2 1011H1015.6V1028.3H1011.2Z M1015.8 1001.2H1020.2V1011H1015.8Z M1020.3 972.3H1024.7V1001.2H1020.3Z M1024.9 930.4H1029.3V972.3H1024.9Z M1034.1 950H1038.5V951.5H1034.1Z M1038.7 920.2H1043.1V950H1038.7Z M1043.2 915.2H1047.6V920.2H1043.2Z M1047.8 902.5H1052.2V915.2H1047.8Z M1052.4 893.7H1056.8V902.5H1052.4Z M1066.1 909.2H1070.5V918H1066.1Z M1070.7 891.9H1075.1V909.2H1070.7Z M1075.3 884.6H1079.7V891.9H1075.3Z M1125.7 1048.2H1130.1V1067.3H1125.7Z M1130.2 1008.9H1134.6V1048.2H1130.2Z M1134.8 983.4H1139.2V1008.9H1134.8Z M1148.5 987.5H1152.9V1015.2H1148.5Z M1171.4 1013.2H1175.8V1014.5H1171.4Z M1185.2 998.9H1189.6V1016.3H1185.2Z M1189.8 991.6H1194.2V998.9H1189.8Z M1194.3 961.7H1198.7V991.6H1194.3Z M1198.9 944.9H1203.3V961.7H1198.9Z M1208.1 940.8H1212.5V950.7H1208.1Z M1226.4 1003.6H1230.8V1013.9H1226.4Z M1244.7 1024.1H1249.1V1032.4H1244.7Z M1249.3 1019.5H1253.7V1024.1H1249.3Z M1267.6 1068H1272V1069.2H1267.6Z M1272.2 1057.9H1276.6V1068H1272.2Z M1276.8 1039.2H1281.2V1057.9H1276.8Z M1281.3 1031H1285.7V1039.2H1281.3Z M1290.5 1020.1H1294.9V1034.1H1290.5Z M1295.1 996.1H1299.5V1020.1H1295.1Z M1299.7 994.8H1304.1V996.1H1299.7Z M1318 1007.6H1322.4V1013.5H1318Z M1322.5 967.6H1326.9V1007.6H1322.5Z M1327.1 957H1331.5V967.6H1327.1Z M1331.7 953.3H1336.1V957H1331.7Z M1336.3 950.2H1340.7V953.3H1336.3Z M1340.9 946.6H1345.3V950.2H1340.9Z M1350 935.4H1354.4V953H1350Z M1359.2 927.3H1363.6V943.2H1359.2Z M1363.8 921.1H1368.2V927.3H1363.8Z M1391.2 981.2H1395.6V983.2H1391.2Z M1395.8 980.7H1400.2V981.9H1395.8Z M1400.4 964H1404.8V980.7H1400.4Z M1405 959.5H1409.4V964H1405Z M1427.9 967.9H1432.3V989.6H1427.9Z M1432.4 961.3H1436.8V967.9H1432.4Z M1437 932.2H1441.4V961.3H1437Z M1441.6 907.3H1446V932.2H1441.6Z M1446.2 907.1H1450.6V908.3H1446.2Z M1450.8 900.6H1455.2V907.1H1450.8Z M1455.3 880.3H1459.7V900.6H1455.3Z M1459.9 877H1464.3V880.3H1459.9Z M1478.2 897.6H1482.6V912.7H1478.2Z M1487.4 908.4H1491.8V913H1487.4Z M1492 906H1496.4V908.4H1492Z M1496.6 895.8H1501V906H1496.6Z M1501.1 875.1H1505.5V895.8H1501.1Z M1505.7 826.4H1510.1V875.1H1505.7Z M1514.9 823.3H1519.3V830.5H1514.9Z M1528.6 834.7H1533V835.9H1528.6Z M1533.2 807.4H1537.6V834.7H1533.2Z M1537.8 791.9H1542.2V807.4H1537.8Z M1546.9 785.5H1551.3V795.8H1546.9Z M1556.1 790.5H1560.5V803.6H1556.1Z M1560.7 752.7H1565.1V790.5H1560.7Z M1565.2 660.5H1569.6V752.7H1565.2Z M1569.8 641.5H1574.2V660.5H1569.8Z M1574.4 614.3H1578.8V641.5H1574.4Z M1583.6 620.3H1588V623.4H1583.6Z M1588.1 609.2H1592.5V620.3H1588.1Z M1597.3 611.9H1601.7V613.1H1597.3Z M1601.9 587.3H1606.3V611.9H1601.9Z M1606.4 556.6H1610.8V587.3H1606.4Z M1611 498.4H1615.4V556.6H1611Z M1620.2 516.5H1624.6V518.1H1620.2Z M1638.5 554.4H1642.9V585.3H1638.5Z M1643.1 530.2H1647.5V554.4H1643.1Z M1652.2 520.4H1656.6V537.9H1652.2Z M1666 525.1H1670.4V537.4H1666Z M1670.6 516.3H1675V525.1H1670.6Z M1684.3 479.5H1688.7V539.5H1684.3Z M1688.9 466.5H1693.3V479.5H1688.9Z M1698 516H1702.4V518.1H1698Z M1702.6 474.9H1707V516H1702.6Z M1716.3 454.2H1720.7V484.9H1716.3Z M1720.9 444.7H1725.3V454.2H1720.9Z M1725.5 443.4H1729.9V444.7H1725.5Z M1730.1 425.1H1734.5V443.4H1730.1Z M1734.7 410.6H1739.1V425.1H1734.7Z M1748.4 510.6H1752.8V516.2H1748.4Z M1762.1 512.2H1766.5V550.2H1762.1Z M1785 553.2H1789.4V562H1785Z M1798.8 564.2H1803.2V576.4H1798.8Z M1803.3 535.7H1807.7V564.2H1803.3Z M1807.9 518.6H1812.3V535.7H1807.9Z M1817.1 503.9H1821.5V533H1817.1Z M1821.7 485.3H1826.1V503.9H1821.7Z M1844.6 547H1849V585.5H1844.6Z M1858.3 544.7H1862.7V559H1858.3Z M1862.9 518.6H1867.3V544.7H1862.9Z M1867.4 488.6H1871.8V518.6H1867.4Z M1872 471.1H1876.4V488.6H1872Z M1876.6 437.2H1881V471.1H1876.6Z M1890.3 440.3H1894.7V468.2H1890.3Z M1894.9 423.9H1899.3V440.3H1894.9Z M1904.1 428.2H1908.5V431.2H1904.1Z M1931.6 437.7H1936V471.8H1931.6Z M1949.9 486.5H1954.3V496.3H1949.9Z M1977.3 523.6H1981.7V545.1H1977.3Z M1981.9 516.4H1986.3V523.6H1981.9Z M1991.1 523.7H1995.5V542.1H1991.1Z M2000.2 514.4H2004.6V524H2000.2Z M2009.4 507.8H2013.8V518.8H2009.4Z M2018.6 536.7H2023V545.5H2018.6Z M2023.1 526.2H2027.5V536.7H2023.1Z M2032.3 531.8H2036.7V534.5H2032.3Z M2041.5 548.3H2045.9V567.3H2041.5Z M2068.9 646.5H2073.3V690.8H2068.9Z M2073.5 570H2077.9V646.5H2073.5Z M2082.7 651.4H2087.1V661.6H2082.7Z M2087.2 618.5H2091.6V651.4H2087.2Z M2114.7 725.5H2119.1V737.8H2114.7Z M2119.3 701.4H2123.7V725.5H2119.3Z M2123.9 695H2128.3V701.4H2123.9Z M2133 681.5H2137.4V723.8H2133Z M2151.3 679.6H2155.7V712.7H2151.3Z M2155.9 665.5H2160.3V679.6H2155.9Z M2169.7 690H2174.1V691.2H2169.7Z M2174.2 655.5H2178.6V690H2174.2Z M2178.8 652.7H2183.2V655.5H2178.8Z M2192.6 666.9H2197V680.6H2192.6Z M2210.9 699.8H2215.3V729.8H2210.9Z M2215.5 677.1H2219.9V699.8H2215.5Z M2224.6 696.5H2229V713H2224.6Z M2252.1 738.6H2256.5V790.7H2252.1Z M2256.7 686.3H2261.1V738.6H2256.7Z M2261.2 680.4H2265.6V686.3H2261.2Z M2270.4 694.7H2274.8V696.1H2270.4Z M2275 688.2H2279.4V694.7H2275Z M2284.1 687.8H2288.5V692.2H2284.1Z M2288.7 680.6H2293.1V687.8H2288.7Z M2293.3 679.8H2297.7V681H2293.3Z M2302.5 649.9H2306.9V688H2302.5Z M2307 594.7H2311.4V649.9H2307Z M2311.6 551.9H2316V594.7H2311.6Z M2320.8 550.7H2325.2V557.9H2320.8Z M2339.1 552.4H2343.5V575.4H2339.1Z M2352.8 533.2H2357.2V572.6H2352.8Z M2357.4 522.4H2361.8V533.2H2357.4Z M2366.6 549.2H2371V557.5H2366.6Z M2375.7 505.5H2380.1V561.5H2375.7Z M2380.3 447.3H2384.7V505.5H2380.3Z M2384.9 431.6H2389.3V447.3H2384.9Z M2394 424.1H2398.4V438.3H2394Z M2403.2 442.3H2407.6V447.4H2403.2Z M2407.8 434H2412.2V442.3H2407.8Z M2421.5 446.6H2425.9V453H2421.5Z M2426.1 420.3H2430.5V446.6H2426.1Z M2430.7 395.4H2435.1V420.3H2430.7Z M2439.8 403.2H2444.2V410.1H2439.8Z M2444.4 372.4H2448.8V403.2H2444.4Z M2453.6 376.8H2458V387.4H2453.6Z M2458.1 362.4H2462.5V376.8H2458.1Z M2462.7 359.8H2467.1V362.4H2462.7Z M2485.6 414.1H2490V428.4H2485.6Z M2494.8 415.2H2499.2V421.2H2494.8Z M2499.4 405.1H2503.8V415.2H2499.4Z M2517.7 438H2522.1V470.5H2517.7Z M2522.2 421.6H2526.6V438H2522.2Z M2526.8 377.1H2531.2V421.6H2526.8Z M2531.4 361.7H2535.8V377.1H2531.4Z M2536 359.3H2540.4V361.7H2536Z M2545.1 401.4H2549.5V402.6H2545.1Z M2558.9 406.5H2563.3V428.6H2558.9Z M2568 427.7H2572.4V431.4H2568Z M2577.2 430.1H2581.6V431.3H2577.2Z M2595.5 423.4H2599.9V482.1H2595.5Z M2600.1 413.9H2604.5V423.4H2600.1Z M2604.7 408.3H2609.1V413.9H2604.7Z M2609.2 403.5H2613.6V408.3H2609.2Z M2613.8 402.1H2618.2V403.5H2613.8Z M2618.4 379.7H2622.8V402.1H2618.4Z M2632.1 393H2636.5V415.4H2632.1Z M2636.7 353.3H2641.1V393H2636.7Z M2655 369.8H2659.4V385.6H2655Z M2664.2 341.3H2668.6V370.8H2664.2Z M2668.8 311.6H2673.2V341.3H2668.8Z M2673.4 266.9H2677.8V311.6H2673.4Z M2682.5 258H2686.9V267.2H2682.5Z M2687.1 240.3H2691.5V258H2687.1Z M2700.8 231.3H2705.2V272.8H2700.8Z M2710 260.9H2714.4V263.3H2710Z M2714.6 260.8H2719V262H2714.6Z M2723.7 237.3H2728.1V285.7H2723.7Z M2732.9 264.8H2737.3V266H2732.9Z M2737.5 249.1H2741.9V264.8H2737.5Z M2746.6 253.9H2751V266.2H2746.6Z M2751.2 250.7H2755.6V253.9H2751.2Z M2755.8 233.2H2760.2V250.7H2755.8Z M2778.7 322.2H2783.1V342.9H2778.7Z M2783.2 297.6H2787.6V322.2H2783.2Z M2787.8 295.5H2792.2V297.6H2787.8Z M2792.4 294H2796.8V295.5H2792.4Z M2797 279.1H2801.4V294H2797Z M2801.6 269.3H2806V279.1H2801.6Z M2810.7 238H2815.1V278.6H2810.7Z M2819.9 221.7H2824.3V245.8H2819.9Z M2824.5 210.3H2828.9V221.7H2824.5Z M2829 181.5H2833.4V210.3H2829Z M2838.2 254.8H2842.6V259.4H2838.2Z M2851.9 265.3H2856.3V270.5H2851.9Z M2861.1 299.5H2865.5V344.6H2861.1Z M2865.7 273.3H2870.1V299.5H2865.7Z M2884 341.6H2888.4V364.2H2884Z M2888.6 340.1H2893V341.6H2888.6Z M2893.1 329.9H2897.5V340.1H2893.1Z M2902.3 376.1H2906.7V377.3H2902.3Z M2911.5 369.5H2915.9V379.1H2911.5Z M2916 346.7H2920.4V369.5H2916Z M2920.6 340.8H2925V346.7H2920.6Z M2938.9 355.3H2943.3V367.3H2938.9Z M2943.5 332.6H2947.9V355.3H2943.5Z M2952.7 315H2957.1V341.2H2952.7Z M2957.3 292.4H2961.7V315H2957.3Z M2961.8 288.8H2966.2V292.4H2961.8Z M2966.4 285.2H2970.8V288.8H2966.4Z M2975.6 291.4H2980V292.6H2975.6Z M2980.1 277.1H2984.5V291.4H2980.1Z M2989.3 275.3H2993.7V282.3H2989.3Z M3016.8 324.5H3021.2V334.3H3016.8Z M3025.9 359.6H3030.3V367.7H3025.9Z M3035.1 335.5H3039.5V366H3035.1Z M3039.7 307.7H3044.1V335.5H3039.7Z M3044.3 303.8H3048.7V307.7H3044.3Z M3048.8 257.6H3053.2V303.8H3048.8Z M3053.4 224.1H3057.8V257.6H3053.4Z M3058 203.9H3062.4V224.1H3058Z M3067.1 191.9H3071.5V204.8H3067.1Z M3071.7 172.3H3076.1V191.9H3071.7Z M3080.9 182.1H3085.3V208.1H3080.9Z M3099.2 289.1H3103.6V349.1H3099.2Z M3126.7 398.3H3131.1V406.2H3126.7Z M3131.3 376.4H3135.7V398.3H3131.3Z M3135.8 354.6H3140.2V376.4H3135.8Z M3149.6 362.9H3154V388.9H3149.6Z M3154.1 347.4H3158.5V362.9H3154.1Z M3158.7 341.3H3163.1V347.4H3158.7Z M3163.3 311.4H3167.7V341.3H3163.3Z M3186.2 368.1H3190.6V377H3186.2Z M3190.8 363.6H3195.2V368.1H3190.8Z M3195.4 352.6H3199.8V363.6H3195.4Z" fill="#089981"/>
<path d="M150.3 1200H154.7V1203.5H150.3Z M168.6 1169.4H173V1170.9H168.6Z M173.2 1170.9H177.6V1204.8H173.2Z M177.8 1204.8H182.2V1220.3H177.8Z M182.4 1220.3H186.8V1226.3H182.4Z M196.1 1217.5H200.5V1218.7H196.1Z M200.7 1217.9H205.1V1234.7H200.7Z M205.3 1234.7H209.7V1237H205.3Z M219 1232.9H223.4V1255.5H219Z M223.6 1255.5H228V1257.2H223.6Z M260.2 1214.4H264.6V1220.2H260.2Z M278.5 1212.1H282.9V1219.5H278.5Z M333.5 1100.2H337.9V1104.1H333.5Z M342.6 1099.6H347V1101.6H342.6Z M356.4 1095.9H360.8V1104.6H356.4Z M365.5 1102.4H369.9V1119.1H365.5Z M374.7 1109.8H379.1V1111.9H374.7Z M402.2 973H406.6V976.5H402.2Z M420.5 903.2H424.9V935.9H420.5Z M457.1 838.5H461.5V841.1H457.1Z M461.7 841.1H466.1V854.5H461.7Z M466.3 854.5H470.7V887.1H466.3Z M470.9 887.1H475.3V918.7H470.9Z M480 901.6H484.4V945.2H480Z M484.6 945.2H489V962.4H484.6Z M493.8 908.6H498.1V934.2H493.8Z M498.3 934.2H502.7V951.6H498.3Z M525.8 862.3H530.2V879.9H525.8Z M544.1 867.6H548.5V892.1H544.1Z M548.7 892.1H553.1V930.1H548.7Z M562.4 892.6H566.8V893.8H562.4Z M576.2 855.1H580.6V856.3H576.2Z M580.8 855.3H585.2V867.4H580.8Z M585.3 867.4H589.7V883.1H585.3Z M589.9 883.1H594.3V884.3H589.9Z M594.5 883.3H598.9V906.5H594.5Z M599.1 906.5H603.5V952.1H599.1Z M608.2 944.8H612.6V957.7H608.2Z M612.8 957.7H617.2V966.5H612.8Z M617.4 966.5H621.8V968.1H617.4Z M649.4 923.4H653.8V940.7H649.4Z M654 940.7H658.4V946.5H654Z M667.8 937.5H672.2V958.9H667.8Z M672.3 958.9H676.7V971.7H672.3Z M676.9 971.7H681.3V985H676.9Z M681.5 985H685.9V1008.5H681.5Z M695.2 961H699.6V967.5H695.2Z M704.4 953.3H708.8V957.1H704.4Z M709 957.1H713.4V974.1H709Z M718.1 973.4H722.5V991.7H718.1Z M727.3 981.4H731.7V982.6H727.3Z M731.9 982.6H736.3V985H731.9Z M754.8 905.8H759.2V909.1H754.8Z M759.3 909.1H763.7V911.9H759.3Z M773.1 862.5H777.5V863.7H773.1Z M777.6 863.2H782V884H777.6Z M782.2 884H786.6V894.3H782.2Z M791.4 882.4H795.8V884.9H791.4Z M796 884.9H800.4V888.8H796Z M800.5 888.8H804.9V895.4H800.5Z M809.7 891.1H814.1V895H809.7Z M818.9 890H823.3V911.5H818.9Z M841.8 851.8H846.2V861H841.8Z M846.3 861H850.7V872.3H846.3Z M850.9 872.3H855.3V892.8H850.9Z M864.6 873.1H869V880H864.6Z M869.2 880H873.6V913.5H869.2Z M883 907.5H887.4V921.9H883Z M892.1 908.3H896.5V942.6H892.1Z M901.3 937.6H905.7V938.8H901.3Z M915 927.7H919.4V943.5H915Z M924.2 939.9H928.6V971.3H924.2Z M928.8 971.3H933.2V976.5H928.8Z M937.9 974.4H942.3V990.9H937.9Z M942.5 990.9H946.9V998.5H942.5Z M956.2 965.7H960.6V969.6H956.2Z M965.4 968.6H969.8V971.2H965.4Z M970 971.2H974.4V994.4H970Z M974.5 994.4H978.9V1030.7H974.5Z M983.7 1021.8H988.1V1033.6H983.7Z M988.3 1033.6H992.7V1040.5H988.3Z M997.4 1028H1001.8V1037.8H997.4Z M1006.6 1027.5H1011V1028.7H1006.6Z M1029.5 930.4H1033.9V951.5H1029.5Z M1057 893.7H1061.4V911.1H1057Z M1061.5 911.1H1065.9V918H1061.5Z M1079.9 884.6H1084.3V897.3H1079.9Z M1084.4 897.3H1088.8V903.8H1084.4Z M1089 903.8H1093.4V909.3H1089Z M1093.6 909.3H1098V932.6H1093.6Z M1098.2 932.6H1102.6V934.9H1098.2Z M1102.8 934.9H1107.2V961.8H1102.8Z M1107.3 961.8H1111.7V984.8H1107.3Z M1111.9 984.8H1116.3V1007.2H1111.9Z M1116.5 1007.2H1120.9V1040.2H1116.5Z M1121.1 1040.2H1125.5V1067.3H1121.1Z M1139.4 983.4H1143.8V998.6H1139.4Z M1144 998.6H1148.4V1015.2H1144Z M1153.1 987.5H1157.5V1001.2H1153.1Z M1157.7 1001.2H1162.1V1002.4H1157.7Z M1162.3 1002.4H1166.7V1013.5H1162.3Z M1166.9 1013.5H1171.3V1014.7H1166.9Z M1176 1013.2H1180.4V1016.1H1176Z M1180.6 1016.1H1185V1017.3H1180.6Z M1203.5 944.9H1207.9V950.7H1203.5Z M1212.7 940.8H1217.1V948.4H1212.7Z M1217.2 948.4H1221.6V975.6H1217.2Z M1221.8 975.6H1226.2V1013.9H1221.8Z M1231 1003.6H1235.4V1005.4H1231Z M1235.5 1005.4H1239.9V1009.2H1235.5Z M1240.1 1009.2H1244.5V1032.4H1240.1Z M1253.9 1019.5H1258.3V1032.4H1253.9Z M1258.4 1032.4H1262.8V1040.9H1258.4Z M1263 1040.9H1267.4V1068H1263Z M1285.9 1031H1290.3V1034.1H1285.9Z M1304.2 994.8H1308.6V1000.7H1304.2Z M1308.8 1000.7H1313.2V1010H1308.8Z M1313.4 1010H1317.8V1013.5H1313.4Z M1345.4 946.6H1349.8V953H1345.4Z M1354.6 935.4H1359V943.2H1354.6Z M1368.3 921.1H1372.7V925.2H1368.3Z M1372.9 925.2H1377.3V945.9H1372.9Z M1377.5 945.9H1381.9V963.4H1377.5Z M1382.1 963.4H1386.5V978H1382.1Z M1386.7 978H1391.1V983.2H1386.7Z M1409.5 959.5H1414V964.3H1409.5Z M1414.1 964.3H1418.5V972.4H1414.1Z M1418.7 972.4H1423.1V980H1418.7Z M1423.3 980H1427.7V989.6H1423.3Z M1464.5 877H1468.9V885.7H1464.5Z M1469.1 885.7H1473.5V903.4H1469.1Z M1473.7 903.4H1478.1V912.7H1473.7Z M1482.8 897.6H1487.2V913H1482.8Z M1510.3 826.4H1514.7V830.5H1510.3Z M1519.4 823.3H1523.8V829.8H1519.4Z M1524 829.8H1528.4V835.6H1524Z M1542.3 791.9H1546.7V795.8H1542.3Z M1551.5 785.5H1555.9V803.6H1551.5Z M1579 614.3H1583.4V623.4H1579Z M1592.7 609.2H1597.1V613.1H1592.7Z M1615.6 498.4H1620V518.1H1615.6Z M1624.8 516.5H1629.2V522.3H1624.8Z M1629.3 522.3H1633.7V556.5H1629.3Z M1633.9 556.5H1638.3V585.3H1633.9Z M1647.7 530.2H1652.1V537.9H1647.7Z M1656.8 520.4H1661.2V533.2H1656.8Z M1661.4 533.2H1665.8V537.4H1661.4Z M1675.1 516.3H1679.5V518.4H1675.1Z M1679.7 518.4H1684.1V539.5H1679.7Z M1693.4 466.5H1697.8V518.1H1693.4Z M1707.2 474.9H1711.6V483.8H1707.2Z M1711.8 483.8H1716.2V485H1711.8Z M1739.2 410.6H1743.6V485.1H1739.2Z M1743.8 485.1H1748.2V516.2H1743.8Z M1753 510.6H1757.4V527.2H1753Z M1757.6 527.2H1762V550.2H1757.6Z M1766.7 512.2H1771.1V514H1766.7Z M1771.3 514H1775.7V517H1771.3Z M1775.9 517H1780.3V533.9H1775.9Z M1780.4 533.9H1784.8V562H1780.4Z M1789.6 553.2H1794V571.5H1789.6Z M1794.2 571.5H1798.6V576.4H1794.2Z M1812.5 518.6H1816.9V533H1812.5Z M1826.2 485.3H1830.6V486.5H1826.2Z M1830.8 485.8H1835.2V542H1830.8Z M1835.4 542H1839.8V563.4H1835.4Z M1840 563.4H1844.4V585.5H1840Z M1849.1 547H1853.5V550H1849.1Z M1853.7 550H1858.1V559H1853.7Z M1881.2 437.2H1885.6V461H1881.2Z M1885.8 461H1890.2V468.2H1885.8Z M1899.5 423.9H1903.9V431.2H1899.5Z M1908.7 428.2H1913.1V440.1H1908.7Z M1913.2 440.1H1917.6V455.2H1913.2Z M1917.8 455.2H1922.2V462.4H1917.8Z M1922.4 462.4H1926.8V469.9H1922.4Z M1927 469.9H1931.4V471.8H1927Z M1936.1 437.7H1940.5V441.1H1936.1Z M1940.7 441.1H1945.1V445.6H1940.7Z M1945.3 445.6H1949.7V496.3H1945.3Z M1954.5 486.5H1958.9V491.8H1954.5Z M1959 491.8H1963.4V515.5H1959Z M1963.6 515.5H1968V529H1963.6Z M1968.2 529H1972.6V535.5H1968.2Z M1972.8 535.5H1977.2V545.1H1972.8Z M1986.5 516.4H1990.9V542.1H1986.5Z M1995.7 523.7H2000.1V524.9H1995.7Z M2004.8 514.4H2009.2V518.8H2004.8Z M2014 507.8H2018.4V545.5H2014Z M2027.7 526.2H2032.1V534.5H2027.7Z M2036.9 531.8H2041.3V567.3H2036.9Z M2046 548.3H2050.4V578.1H2046Z M2050.6 578.1H2055V624.2H2050.6Z M2055.2 624.2H2059.6V679.9H2055.2Z M2059.8 679.9H2064.2V686.9H2059.8Z M2064.3 686.9H2068.7V690.8H2064.3Z M2078.1 570H2082.5V661.6H2078.1Z M2091.8 618.5H2096.2V631.2H2091.8Z M2096.4 631.2H2100.8V656.8H2096.4Z M2101 656.8H2105.4V661H2101Z M2105.6 661H2110V667.7H2105.6Z M2110.1 667.7H2114.5V737.8H2110.1Z M2128.5 695H2132.9V723.8H2128.5Z M2137.6 681.5H2142V693.5H2137.6Z M2142.2 693.5H2146.6V701.9H2142.2Z M2146.8 701.9H2151.2V712.7H2146.8Z M2160.5 665.5H2164.9V676.6H2160.5Z M2165.1 676.6H2169.5V690.5H2165.1Z M2183.4 652.7H2187.8V657.5H2183.4Z M2188 657.5H2192.4V680.6H2188Z M2197.1 666.9H2201.5V705.7H2197.1Z M2201.7 705.7H2206.1V710.3H2201.7Z M2206.3 710.3H2210.7V729.8H2206.3Z M2220 677.1H2224.4V713H2220Z M2229.2 696.5H2233.6V726.7H2229.2Z M2233.8 726.7H2238.2V751.1H2233.8Z M2238.3 751.1H2242.7V758.3H2238.3Z M2242.9 758.3H2247.3V761.4H2242.9Z M2247.5 761.4H2251.9V790.7H2247.5Z M2265.8 680.4H2270.2V696.1H2265.8Z M2279.6 688.2H2284V692.2H2279.6Z M2297.9 679.8H2302.3V688H2297.9Z M2316.2 551.9H2320.6V557.9H2316.2Z M2325.3 550.7H2329.7V551.9H2325.3Z M2329.9 551.8H2334.3V558.5H2329.9Z M2334.5 558.5H2338.9V575.4H2334.5Z M2343.7 552.4H2348.1V557.8H2343.7Z M2348.2 557.8H2352.6V572.6H2348.2Z M2362 522.4H2366.4V557.5H2362Z M2371.1 549.2H2375.5V561.5H2371.1Z M2389.5 431.6H2393.9V438.3H2389.5Z M2398.6 424.1H2403V447.4H2398.6Z M2412.4 434H2416.8V451.2H2412.4Z M2416.9 451.2H2421.3V453H2416.9Z M2435.2 395.4H2439.6V410.1H2435.2Z M2449 372.4H2453.4V387.4H2449Z M2467.3 359.8H2471.7V375.8H2467.3Z M2471.9 375.8H2476.3V405.7H2471.9Z M2476.5 405.7H2480.9V411.5H2476.5Z M2481 411.5H2485.4V428.4H2481Z M2490.2 414.1H2494.6V421.2H2490.2Z M2503.9 405.1H2508.3V412.1H2503.9Z M2508.5 412.1H2512.9V433.6H2508.5Z M2513.1 433.6H2517.5V470.5H2513.1Z M2540.6 359.3H2545V402.3H2540.6Z M2549.7 401.4H2554.1V409.2H2549.7Z M2554.3 409.2H2558.7V428.6H2554.3Z M2563.5 406.5H2567.9V431.4H2563.5Z M2572.6 427.7H2577V430.7H2572.6Z M2581.8 430.1H2586.2V433.9H2581.8Z M2586.4 433.9H2590.8V453.2H2586.4Z M2590.9 453.2H2595.3V482.1H2590.9Z M2623 379.7H2627.4V389.3H2623Z M2627.6 389.3H2632V415.4H2627.6Z M2641.3 353.3H2645.7V365.1H2641.3Z M2645.9 365.1H2650.3V377.1H2645.9Z M2650.5 377.1H2654.9V385.6H2650.5Z M2659.6 369.8H2664V371H2659.6Z M2677.9 266.9H2682.3V268.1H2677.9Z M2691.7 240.3H2696.1V267.2H2691.7Z M2696.2 267.2H2700.6V272.8H2696.2Z M2705.4 231.3H2709.8V263.3H2705.4Z M2719.1 260.8H2723.5V285.7H2719.1Z M2728.3 237.3H2732.7V265.3H2728.3Z M2742 249.1H2746.4V266.2H2742Z M2760.4 233.2H2764.8V256.7H2760.4Z M2764.9 256.7H2769.3V276.7H2764.9Z M2769.5 276.7H2773.9V291.8H2769.5Z M2774.1 291.8H2778.5V342.9H2774.1Z M2806.1 269.3H2810.5V278.6H2806.1Z M2815.3 238H2819.7V245.8H2815.3Z M2833.6 181.5H2838V259.4H2833.6Z M2842.8 254.8H2847.2V260.7H2842.8Z M2847.4 260.7H2851.8V270.5H2847.4Z M2856.5 265.3H2860.9V344.6H2856.5Z M2870.3 273.3H2874.7V281.2H2870.3Z M2874.8 281.2H2879.2V325.5H2874.8Z M2879.4 325.5H2883.8V364.2H2879.4Z M2897.7 329.9H2902.1V377.3H2897.7Z M2906.9 376.1H2911.3V379.1H2906.9Z M2925.2 340.8H2929.6V346.5H2925.2Z M2929.8 346.5H2934.2V352.5H2929.8Z M2934.4 352.5H2938.8V367.3H2934.4Z M2948.1 332.6H2952.5V341.2H2948.1Z M2971 285.2H2975.4V292.2H2971Z M2984.7 277.1H2989.1V282.3H2984.7Z M2993.9 275.3H2998.3V279.4H2993.9Z M2998.5 279.4H3002.9V287.9H2998.5Z M3003 287.9H3007.4V290.6H3003Z M3007.6 290.6H3012V322.8H3007.6Z M3012.2 322.8H3016.6V334.3H3012.2Z M3021.4 324.5H3025.8V367.7H3021.4Z M3030.5 359.6H3034.9V366H3030.5Z M3062.6 203.9H3067V205.1H3062.6Z M3076.3 172.3H3080.7V208.1H3076.3Z M3085.5 182.1H3089.9V209.4H3085.5Z M3090 209.4H3094.4V322.1H3090Z M3094.6 322.1H3099V349.1H3094.6Z M3103.8 289.1H3108.2V291.9H3103.8Z M3108.4 291.9H3112.8V321.5H3108.4Z M3112.9 321.5H3117.3V354.3H3112.9Z M3117.5 354.3H3121.9V385.5H3117.5Z M3122.1 385.5H3126.5V406.2H3122.1Z M3140.4 354.6H3144.8V379.6H3140.4Z M3145 379.6H3149.4V388.9H3145Z M3167.9 311.4H3172.3V312.6H3167.9Z M3172.5 312.5H3176.9V325.3H3172.5Z M3177 325.3H3181.4V359.4H3177Z M3181.6 359.4H3186V377H3181.6Z" fill="#f23645"/>
<polyline points="146,1043 170,1043 185,1003 191,967 193,916 198,888 205,886 207,923 218,923 222,884 226,896 230,916 236,967 261,965 265,958 271,953 274,945 287,946 291,931 296,913 298,885 304,843 305,831 312.6,828 320,788 327.8,731 337.3,874.1 341.1,874.1 350.6,801.8 360.1,830.4 367.7,744.8 377.2,720.1 390.6,638.3 396.3,670.6 402,664.9 409.6,670.6 419.1,625 424.8,598.3 430.5,600.2 434.3,615.5 441.9,678.2 450.7,606 457.1,651.6 462.8,670.6 468.5,695.3 474.2,668.7 483.7,708.7 487.6,750.5 493.3,763.8 497.1,765.7 506.6,805.6 514.9,777.1 521.8,860.8 527.5,883.6 533.2,876 542.7,895 552.2,910.3 559.8,933.1 567.4,962.6 575,977.8 582.6,996.8 590.3,1046.3 601.7,1076.7 611.2,1086.2 618.8,1046.3 624.5,1034.8 639.7,1031 651.1,1084.3 656.8,1086.2 666.3,1091.9 677.7,1122.3 693,1141.4 704.4,1126.1 719.6,1129.9 731,1120.4 753.8,1061.5 769,1050.1 788,1025.3 803.3,1008.2 814.7,996.8 822.3,993 829.9,955 845.2,916.9 858.5,915 868,924.5 879.4,947.4 892.8,975.9 898.5,966.4 909.9,998.7 921.3,1002.5 932.7,1012 946,1012 957.4,1000.6 965,1000.6 970.7,1042.5 978.3,1065.3 986,1080.5 991.7,1069.1 999.3,1046.3 1008.8,1031 1020.2,1004.4 1027.8,977.8 1037.3,977.8 1044.9,947.4 1052.5,930.2 1062,913.1 1069.6,915 1079.1,907.4 1096.3,911.2 1107.7,924.5 1119.1,937.9 1130.5,956.9 1138.1,974 1145.7,987.3 1153.3,991.1 1164.7,1021.5 1172.3,1038.7 1183.7,1050.1 1191.4,1071 1202.8,1050.1 1210.4,1053.9 1225.6,1071 1238.9,1074.8 1248.4,1084.3 1263.6,1084.3 1271.2,1109 1278.8,1097.6 1294.1,1095.7 1301.7,1080.5 1313.1,1080.5 1324.5,1072.9 1332.1,1076.7 1339.7,1090 1347.3,1084.3 1354.9,1082.4 1362.5,1031 1373.9,1023.4 1381.5,1036.8 1389.1,1031 1396.8,1000.6 1408.2,985.4 1423.4,987.3 1431,1000.6 1438.6,970.2 1446.2,943.6 1453.8,907.4 1469,911.2 1480.4,897.9 1491.8,886.5 1499.5,911.2 1507.1,863.7 1518,801 1524,804 1531,800 1541,832 1550,747 1559,738 1565,733 1568,680 1572,680 1582,718 1596,784 1600,781 1609,736 1618,693 1623,708 1629,730 1638,750 1644,785 1653,838 1658,837 1664,821 1679,724 1683,728 1691,803 1701,774 1711,820 1723,800 1738,759 1743,806 1746,840 1750.6,882.7 1763.9,915 1767.7,911.2 1773.4,886.5 1781,897.9 1788.7,909.3 1800.1,932.1 1805.8,964.5 1811.5,956.9 1821,996.8 1828.6,960.7 1834.3,993 1838.1,974 1845.7,1023.4 1851.4,1050.1 1857.1,1093.8 1864.7,1065.3 1868.5,1076.7 1872.3,1065.3 1883.7,1027.2 1889.5,998.7 1895.2,977.8 1902.8,934.1 1908.5,937.9 1912.3,953.1 1916.1,945.5 1919.9,974 1925.6,945.5 1929.4,943.6 1933.2,922.6 1942.7,913.1 1948.4,941.7 1957.9,922.6 1965.5,975.9 1971.2,941.7 1975,977.8 1980.7,943.6 1986.4,953.1 1994.1,916.9 1997.9,949.3 2005.5,956.9 2013.1,981.6 2016.9,960.7 2020.7,1008.2 2024.5,1029.1 2032.1,1042.5 2039.7,1086.2 2047.3,1080.5 2054.9,1133.7 2062.5,1187 2066.3,1168 2072,1187 2081.5,1200.3 2085.3,1175.6 2091,1221.2 2096.8,1226.9 2104.4,1192.7 2112,1255.5 2119.6,1259.3 2129.1,1257.4 2134.8,1228.8 2140.5,1255.5 2148.1,1261.2 2153.8,1272.6 2159.5,1209.8 2165.2,1221.2 2172.8,1211.7 2184.2,1217.4 2199.8,1091.4 2206.8,1100.1 2217.4,1096.1 2227.9,1084.4 2231.4,1084.4 2237.3,1098.4 2250.1,1080.9 2254.8,1096.1 2263,1075 2267.7,1082 2274.7,1080.9 2282.9,1090.2 2291.1,1079.7 2298.1,1084.4 2304,1096.1 2307.5,1070.3 2313.4,1025.8 2322.7,986 2327.4,1013 2337.9,981.4 2346.1,977.8 2354.3,935.7 2359,939.2 2368.4,922.8 2374.2,922.8 2380,908.6 2386.6,875.7 2391,867 2397.6,873.5 2404.1,877.9 2412.9,867 2421.7,849.4 2428.3,862.6 2432.7,842.8 2439.2,831.8 2443.6,814.3 2452.4,845 2459,862.6 2467.8,867 2476.6,882.3 2483.1,908.6 2494.1,946 2502.9,943.8 2511.7,961.3 2522.6,983.3 2531.4,961.3 2542.4,946 2549,948.1 2555.5,959.1 2564.3,939.4 2575.3,965.7 2588.5,1014 2599.4,972.3 2610.4,963.5 2621.4,935 2630.2,937.2 2636.7,926.2 2647.7,910.8 2660.9,899.9 2667.5,904.3 2676.2,864.8 2682.8,873.5 2687.2,856 2693.8,849.4 2704.8,838.4 2713.5,840.6 2722.3,842.8 2731.1,860.4 2739.9,880.1 2748.6,902.1 2757.4,897.7 2764,902.1 2770.6,921.8 2779.4,943.8 2788.1,961.3 2796.9,963.5 2803.5,954.7 2812.3,1011.8 2821.1,1009.6 2829.8,1022.8 2838.6,1049.1 2847.4,1066.6 2858.4,1086.4 2869.3,1097.4 2878.1,1103.9 2880,1099.2 2887.3,1095.5 2898.3,1093.7 2903.8,1091.8 2909.3,1071.7 2914.7,1073.5 2918.4,1066.2 2923.9,1044.3 2927.5,1044.3 2934.9,1055.3 2941.4,1068.1 2947.7,1058.9 2953.2,1044.3 2962.3,1015 2969.6,1020.5 2975.1,1015 2984.2,1002.2 2989.7,996.7 2997,973 3004.4,962 3009.8,973 3019,976.6 3026.3,993.1 3033.6,1004.1 3040.9,998.6 3050.1,956.5 3057.4,938.2 3062.9,929.1 3068.4,921.8 3073.9,883.4 3079.3,863.2 3086.7,859.6 3094,890.7 3099.5,912.6 3106.8,919.9 3112.3,921.8 3123.2,963.8 3130.5,974.8 3137.9,976.6 3145.2,956.5 3152.5,949.2 3158,952.8 3163.5,947.4 3169,932.7 3174.4,929.1 3179.9,949.2 3185.4,982.1 3192.7,1007.7 3198.2,1040.6" fill="none" stroke="#2ee02e" stroke-width="2.0" stroke-linejoin="round" stroke-linecap="round"/>
<polyline points="146,1040 170,1040 185,1000 191.3,964.4 193.1,913.2 197.7,884.8 205,883 206.8,920.5 217.8,920.5 222.4,881.2 226,893 229.7,913.2 236.1,964.4 243.4,979 254.4,975.4 260.8,962.6 265.4,955.2 270.8,949.7 273.6,942.4 287.3,943.3 291,927.8 295.5,909.5 298.3,882.1 305,828.5 312.6,824.7 320.2,784.7 327.8,727.7 337.3,860.8 341.1,860.8 350.6,786.6 354.4,786.6 358.2,803.7 360.1,815.2 367.7,733.4 373.4,725.8 379.1,712.5 386.8,623.1 390.6,617.4 396.3,644 400.1,636.4 405.8,640.2 409.6,649.7 413.4,619.3 419.1,606 424.8,577.4 428.6,583.1 432.4,579.3 436.2,623.1 441.9,619.3 445.7,594.5 450.7,547 457.1,581.2 462.8,606 468.5,636.4 474.2,609 479.2,634.5 483.7,619.3 489.5,670.6 497.1,676.3 506.6,718.2 514.9,687.7 525.6,805.6 533.2,792.3 542.7,815.2 548.4,813.3 552.2,834.2 556,828.5 561.7,862.7 567.4,872.2 573.1,898.8 580.7,929.3 582.6,955 586.4,1008.2 597.9,1031 609.3,1046.3 616.9,1027.2 624.5,1032.9 630.2,1019.6 643.5,1023.4 651.1,1080.5 656.8,1080.5 662.5,1053.9 670.1,1091.9 677.7,1118.5 685.3,1114.7 693,1135.6 700.6,1126.1 712,1107.1 721.5,1126.1 731,1118.5 738.6,1095.7 753.8,1057.7 769,1046.3 776.6,1042.5 788,1019.6 799.5,1012 810.9,987.3 818.5,991.1 824.2,979.7 829.9,943.6 833.8,932.1 837.6,928.3 845.2,911.2 850.9,915 858.5,907.4 866.1,913.1 873.7,932.1 881.4,955 890.9,968.3 898.5,962.6 904.2,947.4 908,947.4 913.7,953.1 925.1,960.7 936.5,970.2 944.1,970.2 951.7,962.6 959.3,955 965,958.8 968.8,993 976.4,1019.6 987.9,1032.9 993.6,1010.1 1003.1,989.2 1008.8,968.3 1016.4,966.4 1024,943.6 1031.6,922.6 1039.2,932.1 1044.9,943.6 1050.6,920.7 1058.2,901.7 1065.8,901.7 1073.4,892.2 1081,892.2 1086.8,888.4 1092.5,894.1 1098.2,899.8 1102,894.1 1107.7,909.3 1119.1,932.1 1134.3,947.4 1143.8,977.8 1153.3,979.7 1160.9,987.3 1172.3,1013.9 1179.9,1019.6 1185.6,1021.5 1191.4,1042.5 1199,1031 1206.6,1034.8 1214.2,1031 1223.7,1048.2 1237,1050.1 1242.7,1029.1 1248.4,1046.3 1254.1,1038.7 1261.7,1048.2 1267.4,1072.9 1273.1,1065.3 1284.5,1061.5 1292.2,1057.7 1297.9,993 1305.5,1000.6 1311.2,1000.6 1316.9,994.9 1320.7,989.2 1328.3,962.6 1335.9,977.8 1341.6,983.5 1349.2,977.8 1360.6,932.1 1366.3,926.4 1373.9,924.5 1381.5,947.4 1389.1,932.1 1396.8,916.9 1408.2,894.1 1423.4,894.1 1431,892.2 1434.8,955 1438.6,962.6 1442.4,924.5 1453.8,901.7 1459.5,873.2 1465.2,886.5 1476.6,897.9 1489.9,869.4 1499.5,897.9 1505.2,867.5 1510.9,818 1518,794 1524,797 1531,798 1541,823 1546,791 1550,744 1559,733 1563,738 1568,616 1572,583 1578,595 1582,630 1590,677 1593,645 1594,522 1600,518 1606,478 1615,440 1618.8,407.2 1622.6,420.5 1626.4,260.7 1635.9,279.8 1641.6,302.6 1645.4,336.8 1650.3,359.6 1660.6,353.9 1664.4,287.4 1677.7,188.5 1682.3,188.5 1686.1,251.2 1691,198 1694.9,186.6 1700.6,153.5 1704.4,260.7 1710.1,271.4 1719.6,260.7 1727.2,180.1 1732.1,329.2 1737.5,327.3 1742.4,355.8 1748.1,412.9 1757.6,471.8 1761.4,464.2 1764,586 1765,651 1770,646 1774,619 1780,632 1787.6,652.9 1797.1,652.9 1804.7,740.4 1810.4,734.7 1819.9,782.2 1825.6,751.8 1837.1,833.6 1838.1,833.3 1843.8,894.1 1853.3,936 1860.9,985.4 1864.7,987.3 1870.4,996.8 1874.2,981.6 1879.9,981.6 1885.6,962.6 1891.4,905.5 1897.1,894.1 1902.8,852.3 1910.4,871.3 1918,861.8 1921.8,861.8 1923.7,835.2 1929.4,839 1935.1,829.4 1944.6,823.7 1948.4,852.3 1957.9,825.6 1965.5,882.7 1971.2,848.5 1975,886.5 1984.5,831.4 1988.3,837.1 1994.1,810.4 1997.9,848.5 2005.5,848.5 2011.2,873.2 2016.9,854.2 2022.6,913.1 2028.3,939.8 2034,977.8 2039.7,1015.8 2043.5,1008.2 2049.2,943.6 2053,974 2058.7,1027.2 2062.5,1080.5 2066.3,1061.5 2072,1080.5 2077.7,1080.5 2081.5,1091.9 2085.3,1065.3 2089.1,1107.1 2094.9,1124.2 2104.4,1091.9 2112,1149 2117.7,1141.4 2123.4,1169.9 2129.1,1164.2 2134.8,1137.6 2140.5,1166.1 2148.1,1171.8 2153.8,1183.2 2159.5,1120.4 2165.2,1129.9 2172.8,1122.3 2178.5,1103.3 2182.3,1105.2 2185,1169.9 2189.9,1099.5 2193.9,1061 2197.5,1049.3 2201,1042.2 2203.3,1056.3 2206.8,953.3 2211.5,953.3 2217.4,943.9 2223.2,960.3 2227.9,928.7 2231.4,929.8 2236.1,946.2 2240.8,957.9 2245.5,967.3 2250.1,932.2 2254.8,957.9 2259.5,939.2 2264.2,934.5 2270,932.2 2274.7,928.7 2281.8,940.4 2286.4,931 2292.3,928.7 2295.8,932.2 2300.5,922.8 2305.2,924 2308.7,885.4 2321.6,837.4 2327.4,865.5 2332.1,803.4 2337.9,783.5 2341.5,775.3 2345,881.8 2349.7,866.6 2355.5,832.7 2361.4,844.4 2366,836.2 2369.6,826.8 2374.2,825.7 2380,816.5 2384.4,803.3 2386.6,768.2 2391,746.3 2396.7,711.2 2401.1,711.2 2405.5,726.5 2410.7,719.9 2415.1,711.2 2420.4,695.8 2423.9,700.2 2428.3,713.4 2432.7,665.1 2437.1,673.9 2443.6,655 2448,669.5 2454.6,695.8 2459,700.2 2463.4,702.4 2467.8,741.9 2472.2,739.7 2476.6,750.7 2483.1,774.8 2487.5,781.4 2493.2,809.9 2497.6,792.3 2502.9,700.2 2507.3,713.4 2513.9,722.1 2520.4,728.7 2524.8,755 2529.2,744.1 2533.6,772.6 2540.2,768.2 2546.8,761.6 2553.4,768.2 2557.7,774.8 2564.3,717.7 2570.9,755 2575.3,761.6 2581.9,790.2 2588.5,820.9 2595,803.3 2599.4,798.9 2603.8,757.2 2608.2,759.4 2612.6,768.2 2617,757.2 2624.9,724.3 2630.2,733.1 2634.5,744.1 2639.8,823.1 2645.5,814.3 2652.1,806.8 2658.7,792.3 2665.3,798.9 2676.2,755 2682.8,768.2 2689.4,741.9 2693.8,730.9 2698.2,755 2704.8,745.4 2711.3,746.3 2717.9,748.5 2725.8,583 2731.1,594.9 2735.5,610.2 2739.9,627.8 2746.5,651.9 2753,656.3 2757.4,581.7 2761.8,575.1 2766.2,565.5 2770.6,583.9 2777.2,597.1 2786,619 2794.7,632.2 2803.5,619 2812.3,678.2 2818.9,658.5 2825.4,601.4 2832,605.8 2838.6,630 2843,645.3 2847.4,656.3 2854,649.7 2858.4,733.1 2862.8,831.8 2869.3,834 2875.9,853.8 2880,846.8 2883.7,837.6 2889.1,839.5 2892.8,854.1 2896.5,901.6 2901.9,927.2 2903.8,932.7 2909.3,916.3 2914.7,914.4 2920.2,879.7 2925.7,870.5 2931.2,874.2 2936.7,883.4 2942.2,896.2 2945.8,881.5 2951.3,877.9 2955,872.4 2959.7,861.4 2962.3,923.6 2967.8,932.7 2973.3,934.6 2978.8,923.6 2986.1,890.7 2989.7,892.5 2995.2,876 3000.7,868.7 3004.4,868.7 3009.8,839.5 3015.3,844.9 3022.6,861.4 3030,876 3039.1,887 3044.6,855.9 3050.1,821.2 3055.6,824.8 3061.1,810.2 3068.4,810.2 3073.9,780.9 3079.3,753.5 3083,757.2 3088.5,753.5 3094,777.3 3099.5,791.9 3103.1,815.7 3108.6,817.5 3114.1,823 3119.6,844.9 3123.2,888.8 3128.7,892.5 3134.2,899.8 3137.9,901.6 3141.5,887 3145.2,918.1 3150.7,914.4 3156.2,936.4 3161.6,929.1 3167.1,912.6 3174.4,901.6 3179.9,927.2 3187.2,971.1 3192.7,993.1 3198.2,1029.7" fill="none" stroke="#08b6f2" stroke-width="5.0" stroke-linejoin="round" stroke-linecap="round"/>
<text x="158.5" y="49.3" font-size="20" fill="#131722" text-anchor="start" font-weight="normal" textLength="281.5" lengthAdjust="spacingAndGlyphs">BITCOIN / USD, 1D, COINBASE</text>
<text x="453.5" y="49.3" font-size="20" fill="#131722" text-anchor="start" font-weight="normal">O</text>
<text x="468.5" y="49.3" font-size="20" fill="#089981" text-anchor="start" font-weight="normal" textLength="99" lengthAdjust="spacingAndGlyphs">110,052.25</text>
<text x="581" y="49.3" font-size="20" fill="#131722" text-anchor="start" font-weight="normal">H</text>
<text x="596" y="49.3" font-size="20" fill="#089981" text-anchor="start" font-weight="normal" textLength="93.5" lengthAdjust="spacingAndGlyphs">111,221.99</text>
<text x="703.5" y="49.3" font-size="20" fill="#131722" text-anchor="start" font-weight="normal">L</text>
<text x="714.5" y="49.3" font-size="20" fill="#089981" text-anchor="start" font-weight="normal" textLength="103" lengthAdjust="spacingAndGlyphs">108,800.00</text>
<text x="831" y="49.3" font-size="20" fill="#131722" text-anchor="start" font-weight="normal">C</text>
<text x="845.5" y="49.3" font-size="20" fill="#089981" text-anchor="start" font-weight="normal" textLength="96.5" lengthAdjust="spacingAndGlyphs">110,536.01</text>
<text x="954.5" y="49.3" font-size="20" fill="#089981" text-anchor="start" font-weight="normal" textLength="171" lengthAdjust="spacingAndGlyphs">+483.76 (+0.44%)</text>
<text x="158.5" y="77.4" font-size="20" fill="#131722" text-anchor="start" font-weight="normal" textLength="429" lengthAdjust="spacingAndGlyphs">(Capriole.com) Institutional Buying (MCap) (0)</text>
<text x="601" y="77.4" font-size="20" fill="#f5a11c" text-anchor="start" font-weight="normal" textLength="83" lengthAdjust="spacingAndGlyphs">0.0005%</text>
<text x="697" y="77.4" font-size="20" fill="#131722" text-anchor="start" font-weight="normal" textLength="12" lengthAdjust="spacingAndGlyphs">⌀</text>
<text x="722.5" y="77.4" font-size="20" fill="#19d219" text-anchor="start" font-weight="normal" textLength="79.5" lengthAdjust="spacingAndGlyphs">0.0016%</text>
<text x="815.5" y="77.4" font-size="20" fill="#1aa9e8" text-anchor="start" font-weight="normal" textLength="79" lengthAdjust="spacingAndGlyphs">0.0021%</text>
<text x="908" y="77.4" font-size="20" fill="#ee6666" text-anchor="start" font-weight="normal" textLength="82.5" lengthAdjust="spacingAndGlyphs">0.0023%</text>
<text x="159.5" y="1417.8" font-size="20" fill="#131722" text-anchor="start" font-weight="normal" textLength="436.5" lengthAdjust="spacingAndGlyphs">(Capriole.com) Institutional Excess Demand (0)</text>
<text x="609" y="1417.8" font-size="20" fill="#f23645" text-anchor="start" font-weight="normal" textLength="48" lengthAdjust="spacingAndGlyphs">−11%</text>
<text x="131" y="113.9" font-size="20.5" fill="#3a3d45" text-anchor="end" font-weight="normal" textLength="86" lengthAdjust="spacingAndGlyphs">0.0500%</text>
<text x="131" y="210.2" font-size="20.5" fill="#3a3d45" text-anchor="end" font-weight="normal" textLength="86" lengthAdjust="spacingAndGlyphs">0.0450%</text>
<text x="131" y="306.5" font-size="20.5" fill="#3a3d45" text-anchor="end" font-weight="normal" textLength="86" lengthAdjust="spacingAndGlyphs">0.0400%</text>
<text x="131" y="402.8" font-size="20.5" fill="#3a3d45" text-anchor="end" font-weight="normal" textLength="86" lengthAdjust="spacingAndGlyphs">0.0350%</text>
<text x="131" y="499.1" font-size="20.5" fill="#3a3d45" text-anchor="end" font-weight="normal" textLength="86" lengthAdjust="spacingAndGlyphs">0.0300%</text>
<text x="131" y="595.4" font-size="20.5" fill="#3a3d45" text-anchor="end" font-weight="normal" textLength="86" lengthAdjust="spacingAndGlyphs">0.0250%</text>
<text x="131" y="691.7" font-size="20.5" fill="#3a3d45" text-anchor="end" font-weight="normal" textLength="86" lengthAdjust="spacingAndGlyphs">0.0200%</text>
<text x="131" y="788" font-size="20.5" fill="#3a3d45" text-anchor="end" font-weight="normal" textLength="86" lengthAdjust="spacingAndGlyphs">0.0150%</text>
<text x="131" y="884.3" font-size="20.5" fill="#3a3d45" text-anchor="end" font-weight="normal" textLength="86" lengthAdjust="spacingAndGlyphs">0.0100%</text>
<text x="131" y="980.6" font-size="20.5" fill="#3a3d45" text-anchor="end" font-weight="normal" textLength="86" lengthAdjust="spacingAndGlyphs">0.0050%</text>
<text x="131" y="1076.9" font-size="20.5" fill="#3a3d45" text-anchor="end" font-weight="normal" textLength="86" lengthAdjust="spacingAndGlyphs">0.0000%</text>
<text x="131" y="1173.2" font-size="20.5" fill="#3a3d45" text-anchor="end" font-weight="normal" textLength="98.3" lengthAdjust="spacingAndGlyphs">−0.0050%</text>
<text x="131" y="1269.5" font-size="20.5" fill="#3a3d45" text-anchor="end" font-weight="normal" textLength="98.3" lengthAdjust="spacingAndGlyphs">−0.0100%</text>
<text x="131" y="1365.8" font-size="20.5" fill="#3a3d45" text-anchor="end" font-weight="normal" textLength="98.3" lengthAdjust="spacingAndGlyphs">−0.0150%</text>
<text x="3953" y="35" font-size="20.5" fill="#3a3d45" text-anchor="start" font-weight="normal" textLength="109" lengthAdjust="spacingAndGlyphs">136,000.00</text>
<text x="3953" y="86" font-size="20.5" fill="#3a3d45" text-anchor="start" font-weight="normal" textLength="109" lengthAdjust="spacingAndGlyphs">132,000.00</text>
<text x="3953" y="137" font-size="20.5" fill="#3a3d45" text-anchor="start" font-weight="normal" textLength="109" lengthAdjust="spacingAndGlyphs">128,000.00</text>
<text x="3953" y="188.1" font-size="20.5" fill="#3a3d45" text-anchor="start" font-weight="normal" textLength="109" lengthAdjust="spacingAndGlyphs">124,000.00</text>
<text x="3953" y="239.1" font-size="20.5" fill="#3a3d45" text-anchor="start" font-weight="normal" textLength="109" lengthAdjust="spacingAndGlyphs">120,000.00</text>
<text x="3953" y="290.1" font-size="20.5" fill="#3a3d45" text-anchor="start" font-weight="normal" textLength="109" lengthAdjust="spacingAndGlyphs">116,000.00</text>
<text x="3953" y="341.1" font-size="20.5" fill="#3a3d45" text-anchor="start" font-weight="normal" textLength="109" lengthAdjust="spacingAndGlyphs">112,000.00</text>
<text x="3953" y="392.1" font-size="20.5" fill="#3a3d45" text-anchor="start" font-weight="normal" textLength="109" lengthAdjust="spacingAndGlyphs">108,000.00</text>
<text x="3953" y="443.2" font-size="20.5" fill="#3a3d45" text-anchor="start" font-weight="normal" textLength="109" lengthAdjust="spacingAndGlyphs">104,000.00</text>
<text x="3953" y="494.2" font-size="20.5" fill="#3a3d45" text-anchor="start" font-weight="normal" textLength="109" lengthAdjust="spacingAndGlyphs">100,000.00</text>
<text x="3953" y="545.2" font-size="20.5" fill="#3a3d45" text-anchor="start" font-weight="normal" textLength="96.5" lengthAdjust="spacingAndGlyphs">96,000.00</text>
<text x="3953" y="596.2" font-size="20.5" fill="#3a3d45" text-anchor="start" font-weight="normal" textLength="96.5" lengthAdjust="spacingAndGlyphs">92,000.00</text>
<text x="3953" y="647.2" font-size="20.5" fill="#3a3d45" text-anchor="start" font-weight="normal" textLength="96.5" lengthAdjust="spacingAndGlyphs">88,000.00</text>
<text x="3953" y="698.3" font-size="20.5" fill="#3a3d45" text-anchor="start" font-weight="normal" textLength="96.5" lengthAdjust="spacingAndGlyphs">84,000.00</text>
<text x="3953" y="749.3" font-size="20.5" fill="#3a3d45" text-anchor="start" font-weight="normal" textLength="96.5" lengthAdjust="spacingAndGlyphs">80,000.00</text>
<text x="3953" y="800.3" font-size="20.5" fill="#3a3d45" text-anchor="start" font-weight="normal" textLength="96.5" lengthAdjust="spacingAndGlyphs">76,000.00</text>
<text x="3953" y="851.3" font-size="20.5" fill="#3a3d45" text-anchor="start" font-weight="normal" textLength="96.5" lengthAdjust="spacingAndGlyphs">72,000.00</text>
<text x="3953" y="902.3" font-size="20.5" fill="#3a3d45" text-anchor="start" font-weight="normal" textLength="96.5" lengthAdjust="spacingAndGlyphs">68,000.00</text>
<text x="3953" y="953.4" font-size="20.5" fill="#3a3d45" text-anchor="start" font-weight="normal" textLength="96.5" lengthAdjust="spacingAndGlyphs">64,000.00</text>
<text x="3953" y="1004.4" font-size="20.5" fill="#3a3d45" text-anchor="start" font-weight="normal" textLength="96.5" lengthAdjust="spacingAndGlyphs">60,000.00</text>
<text x="3953" y="1055.4" font-size="20.5" fill="#3a3d45" text-anchor="start" font-weight="normal" textLength="96.5" lengthAdjust="spacingAndGlyphs">56,000.00</text>
<text x="3953" y="1106.4" font-size="20.5" fill="#3a3d45" text-anchor="start" font-weight="normal" textLength="96.5" lengthAdjust="spacingAndGlyphs">52,000.00</text>
<text x="3953" y="1157.4" font-size="20.5" fill="#3a3d45" text-anchor="start" font-weight="normal" textLength="96.5" lengthAdjust="spacingAndGlyphs">48,000.00</text>
<text x="3953" y="1208.5" font-size="20.5" fill="#3a3d45" text-anchor="start" font-weight="normal" textLength="96.5" lengthAdjust="spacingAndGlyphs">44,000.00</text>
<text x="3953" y="1259.5" font-size="20.5" fill="#3a3d45" text-anchor="start" font-weight="normal" textLength="96.5" lengthAdjust="spacingAndGlyphs">40,000.00</text>
<text x="3953" y="1310.5" font-size="20.5" fill="#3a3d45" text-anchor="start" font-weight="normal" textLength="96.5" lengthAdjust="spacingAndGlyphs">36,000.00</text>
<text x="3953" y="1361.5" font-size="20.5" fill="#3a3d45" text-anchor="start" font-weight="normal" textLength="96.5" lengthAdjust="spacingAndGlyphs">32,000.00</text>
<text x="3953" y="1447.4" font-size="20.5" fill="#3a3d45" text-anchor="start" font-weight="normal">2,000%</text>
<text x="3953" y="1508.1" font-size="20.5" fill="#3a3d45" text-anchor="start" font-weight="normal">1,750%</text>
<text x="3953" y="1568.8" font-size="20.5" fill="#3a3d45" text-anchor="start" font-weight="normal">1,500%</text>
<text x="3953" y="1629.5" font-size="20.5" fill="#3a3d45" text-anchor="start" font-weight="normal">1,250%</text>
<text x="3953" y="1690.2" font-size="20.5" fill="#3a3d45" text-anchor="start" font-weight="normal">1,000%</text>
<text x="3953" y="1750.9" font-size="20.5" fill="#3a3d45" text-anchor="start" font-weight="normal">750%</text>
<text x="3953" y="1811.6" font-size="20.5" fill="#3a3d45" text-anchor="start" font-weight="normal">500%</text>
<text x="3953" y="1872.3" font-size="20.5" fill="#3a3d45" text-anchor="start" font-weight="normal">250%</text>
<text x="3953" y="1993.7" font-size="20.5" fill="#3a3d45" text-anchor="start" font-weight="normal">−250%</text>
<text x="3953" y="2054.4" font-size="20.5" fill="#3a3d45" text-anchor="start" font-weight="normal">−500%</text>
<rect x="3843.7" y="340.2" width="228" height="28.5" rx="2.5" fill="#089981"/>
<line x1="3938.5" y1="340.2" x2="3938.5" y2="368.7" stroke="#e8fffa" stroke-width="1"/>
<text x="3851" y="361.5" font-size="20" fill="#ffffff" text-anchor="start" font-weight="normal" textLength="79" lengthAdjust="spacingAndGlyphs">BTCUSD</text>
<text x="3954.5" y="361.5" font-size="20" fill="#ffffff" text-anchor="start" font-weight="normal" textLength="107.5" lengthAdjust="spacingAndGlyphs">110,536.01</text>
<rect x="3793" y="1914.8" width="222.5" height="28.5" rx="2.5" fill="#ff0000"/>
<line x1="3938.7" y1="1914.8" x2="3938.7" y2="1943.3" stroke="#ffd0d0" stroke-width="1"/>
<text x="3801" y="1936.2" font-size="20" fill="#ffffff" text-anchor="start" font-weight="normal" textLength="129" lengthAdjust="spacingAndGlyphs">Total (Excess)</text>
<text x="3953" y="1936.2" font-size="20" fill="#ffffff" text-anchor="start" font-weight="normal" textLength="56" lengthAdjust="spacingAndGlyphs">−11%</text>
<rect x="37" y="963.3" width="312.5" height="28.6" rx="2.5" fill="#f77070"/>
<line x1="144.3" y1="963.6" x2="144.3" y2="991.1" stroke="#ffffff" stroke-opacity="0.6" stroke-width="1"/>
<text x="45.8" y="984.6" font-size="20" fill="#ffffff" text-anchor="start" font-weight="normal" textLength="85" lengthAdjust="spacingAndGlyphs">0.0023%</text>
<text x="153" y="984.6" font-size="20" fill="#ffffff" text-anchor="start" font-weight="normal" textLength="191" lengthAdjust="spacingAndGlyphs">Bitcoin Mined (ROC)</text>
<rect x="37" y="991.7" width="229.6" height="28.6" rx="2.5" fill="#1ab3ef"/>
<line x1="144.3" y1="992" x2="144.3" y2="1019.5" stroke="#ffffff" stroke-opacity="0.6" stroke-width="1"/>
<text x="45.8" y="1013" font-size="20" fill="#0d1a2a" text-anchor="start" font-weight="normal" textLength="85" lengthAdjust="spacingAndGlyphs">0.0021%</text>
<text x="153" y="1013" font-size="20" fill="#0d1a2a" text-anchor="start" font-weight="normal" textLength="103" lengthAdjust="spacingAndGlyphs">Total (ROC)</text>
<rect x="37" y="1020.4" width="231.6" height="28.6" rx="2.5" fill="#00e600"/>
<line x1="144.3" y1="1020.7" x2="144.3" y2="1048.2" stroke="#ffffff" stroke-opacity="0.6" stroke-width="1"/>
<text x="45.8" y="1041.7" font-size="20" fill="#0a1a0a" text-anchor="start" font-weight="normal" textLength="85" lengthAdjust="spacingAndGlyphs">0.0016%</text>
<text x="153" y="1041.7" font-size="20" fill="#0a1a0a" text-anchor="start" font-weight="normal" textLength="104" lengthAdjust="spacingAndGlyphs">ETFs (ROC)</text>
<rect x="37" y="1048.2" width="280.6" height="28.6" rx="2.5" fill="#ff9f0a"/>
<line x1="144.3" y1="1048.5" x2="144.3" y2="1076" stroke="#ffffff" stroke-opacity="0.6" stroke-width="1"/>
<text x="45.8" y="1069.5" font-size="20" fill="#1a1000" text-anchor="start" font-weight="normal" textLength="85" lengthAdjust="spacingAndGlyphs">0.0005%</text>
<text x="153" y="1069.5" font-size="20" fill="#1a1000" text-anchor="start" font-weight="normal" textLength="154" lengthAdjust="spacingAndGlyphs">Treasuries (ROC)</text>
<path d="M171.7 1076.8L176 1080.2H190" fill="none" stroke="#858585" stroke-width="2.6" stroke-linecap="round" stroke-linejoin="round"/>
<text x="267" y="2100.5" font-size="20" fill="#131722" text-anchor="middle" font-weight="normal">Feb</text>
<text x="399.8" y="2100.5" font-size="20" fill="#131722" text-anchor="middle" font-weight="normal">Mar</text>
<text x="541.7" y="2100.5" font-size="20" fill="#131722" text-anchor="middle" font-weight="normal">Apr</text>
<text x="679" y="2100.5" font-size="20" fill="#131722" text-anchor="middle" font-weight="normal">May</text>
<text x="820.9" y="2100.5" font-size="20" fill="#131722" text-anchor="middle" font-weight="normal">Jun</text>
<text x="958.3" y="2100.5" font-size="20" fill="#131722" text-anchor="middle" font-weight="normal">Jul</text>
<text x="1100" y="2100.5" font-size="20" fill="#131722" text-anchor="middle" font-weight="normal">Aug</text>
<text x="1242" y="2100.5" font-size="20" fill="#131722" text-anchor="middle" font-weight="normal">Sep</text>
<text x="1379.4" y="2100.5" font-size="20" fill="#131722" text-anchor="middle" font-weight="normal">Oct</text>
<text x="1521.3" y="2100.5" font-size="20" fill="#131722" text-anchor="middle" font-weight="normal">Nov</text>
<text x="1658.7" y="2100.5" font-size="20" fill="#131722" text-anchor="middle" font-weight="normal">Dec</text>
<text x="1800.6" y="2100.5" font-size="20" fill="#131722" text-anchor="middle" font-weight="bold" textLength="51.6" lengthAdjust="spacingAndGlyphs">2025</text>
<text x="1942.6" y="2100.5" font-size="20" fill="#131722" text-anchor="middle" font-weight="normal">Feb</text>
<text x="2075.5" y="2100.5" font-size="20" fill="#131722" text-anchor="middle" font-weight="normal">2</text>
<text x="2212.7" y="2100.5" font-size="20" fill="#131722" text-anchor="middle" font-weight="normal">Apr</text>
<text x="2350" y="2100.5" font-size="20" fill="#131722" text-anchor="middle" font-weight="normal">May</text>
<text x="2492" y="2100.5" font-size="20" fill="#131722" text-anchor="middle" font-weight="normal">Jun</text>
<text x="2629.3" y="2100.5" font-size="20" fill="#131722" text-anchor="middle" font-weight="normal">Jul</text>
<text x="2771.3" y="2100.5" font-size="20" fill="#131722" text-anchor="middle" font-weight="normal">Aug</text>
<text x="2913.2" y="2100.5" font-size="20" fill="#131722" text-anchor="middle" font-weight="normal">Sep</text>
<text x="3050.6" y="2100.5" font-size="20" fill="#131722" text-anchor="middle" font-weight="normal">Oct</text>
<text x="3192.5" y="2100.5" font-size="20" fill="#131722" text-anchor="middle" font-weight="normal">Nov</text>
<text x="3329.9" y="2100.5" font-size="20" fill="#131722" text-anchor="middle" font-weight="normal">Dec</text>
<text x="3471.8" y="2100.5" font-size="20" fill="#131722" text-anchor="middle" font-weight="bold" textLength="51.6" lengthAdjust="spacingAndGlyphs">2026</text>
<text x="3613.8" y="2100.5" font-size="20" fill="#131722" text-anchor="middle" font-weight="normal">Feb</text>
<text x="3746.6" y="2100.5" font-size="20" fill="#131722" text-anchor="middle" font-weight="normal">2</text>
<text x="3883.9" y="2100.5" font-size="20" fill="#131722" text-anchor="middle" font-weight="normal">Apr</text>
<circle cx="81" cy="2092.5" r="15.5" fill="#f0f1f3"/>
<text x="81" y="2099.5" font-size="19" fill="#50535e" text-anchor="middle" font-weight="normal">Z</text>
<circle cx="4010" cy="2093" r="15.5" fill="#f0f1f3"/>
<text x="4010" y="2100" font-size="19" fill="#50535e" text-anchor="middle" font-weight="normal">A</text>
<g fill="#131722"><path d="M16.6 2135.1H28.9V2150.9H22.9V2140.7H16.6Z"/><circle cx="34.6" cy="2138.4" r="3.2"/><path d="M41.4 2135.1H48.8L42.1 2150.9H35.5Z"/></g>
<text x="56" y="2152" font-size="21" fill="#131722" text-anchor="start" font-weight="normal" textLength="121" lengthAdjust="spacingAndGlyphs">TradingView</text>
</svg></body></html>
